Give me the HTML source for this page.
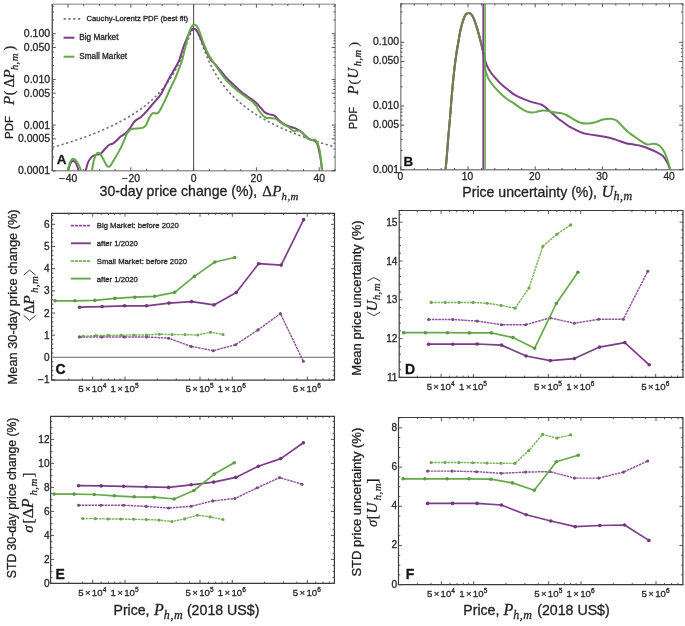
<!DOCTYPE html>
<html><head><meta charset="utf-8"><style>
html,body{margin:0;padding:0;background:#fff;width:685px;height:626px;overflow:hidden}
svg{display:block;filter:blur(0.4px)}
text{stroke:#262626;stroke-width:0.3px;stroke-linejoin:round}
</style></head><body>
<svg width="685" height="626" viewBox="0 0 685 626">
<rect width="685" height="626" fill="#fff"/>
<g id="A">
<line x1="52.3" y1="4.2" x2="52.3" y2="170.8" stroke="#555" stroke-width="1.4"/>
<line x1="51.6" y1="170.8" x2="335.9" y2="170.8" stroke="#999" stroke-width="1.4"/>
<line x1="51.6" y1="4.2" x2="335.9" y2="4.2" stroke="#aaa" stroke-width="1.4"/>
<line x1="335.2" y1="4.2" x2="335.2" y2="170.8" stroke="#999" stroke-width="1.4"/>
<line x1="52.3" y1="170.8" x2="52.3" y2="169" stroke="#444" stroke-width="0.9"/>
<line x1="52.3" y1="4.2" x2="52.3" y2="6" stroke="#444" stroke-width="0.9"/>
<line x1="68" y1="170.8" x2="68" y2="167.3" stroke="#444" stroke-width="0.9"/>
<line x1="68" y1="4.2" x2="68" y2="7.7" stroke="#444" stroke-width="0.9"/>
<line x1="83.7" y1="170.8" x2="83.7" y2="169" stroke="#444" stroke-width="0.9"/>
<line x1="83.7" y1="4.2" x2="83.7" y2="6" stroke="#444" stroke-width="0.9"/>
<line x1="99.4" y1="170.8" x2="99.4" y2="169" stroke="#444" stroke-width="0.9"/>
<line x1="99.4" y1="4.2" x2="99.4" y2="6" stroke="#444" stroke-width="0.9"/>
<line x1="115.1" y1="170.8" x2="115.1" y2="169" stroke="#444" stroke-width="0.9"/>
<line x1="115.1" y1="4.2" x2="115.1" y2="6" stroke="#444" stroke-width="0.9"/>
<line x1="130.8" y1="170.8" x2="130.8" y2="167.3" stroke="#444" stroke-width="0.9"/>
<line x1="130.8" y1="4.2" x2="130.8" y2="7.7" stroke="#444" stroke-width="0.9"/>
<line x1="146.5" y1="170.8" x2="146.5" y2="169" stroke="#444" stroke-width="0.9"/>
<line x1="146.5" y1="4.2" x2="146.5" y2="6" stroke="#444" stroke-width="0.9"/>
<line x1="162.2" y1="170.8" x2="162.2" y2="169" stroke="#444" stroke-width="0.9"/>
<line x1="162.2" y1="4.2" x2="162.2" y2="6" stroke="#444" stroke-width="0.9"/>
<line x1="177.9" y1="170.8" x2="177.9" y2="169" stroke="#444" stroke-width="0.9"/>
<line x1="177.9" y1="4.2" x2="177.9" y2="6" stroke="#444" stroke-width="0.9"/>
<line x1="193.6" y1="170.8" x2="193.6" y2="167.3" stroke="#444" stroke-width="0.9"/>
<line x1="193.6" y1="4.2" x2="193.6" y2="7.7" stroke="#444" stroke-width="0.9"/>
<line x1="209.3" y1="170.8" x2="209.3" y2="169" stroke="#444" stroke-width="0.9"/>
<line x1="209.3" y1="4.2" x2="209.3" y2="6" stroke="#444" stroke-width="0.9"/>
<line x1="225" y1="170.8" x2="225" y2="169" stroke="#444" stroke-width="0.9"/>
<line x1="225" y1="4.2" x2="225" y2="6" stroke="#444" stroke-width="0.9"/>
<line x1="240.7" y1="170.8" x2="240.7" y2="169" stroke="#444" stroke-width="0.9"/>
<line x1="240.7" y1="4.2" x2="240.7" y2="6" stroke="#444" stroke-width="0.9"/>
<line x1="256.4" y1="170.8" x2="256.4" y2="167.3" stroke="#444" stroke-width="0.9"/>
<line x1="256.4" y1="4.2" x2="256.4" y2="7.7" stroke="#444" stroke-width="0.9"/>
<line x1="272.1" y1="170.8" x2="272.1" y2="169" stroke="#444" stroke-width="0.9"/>
<line x1="272.1" y1="4.2" x2="272.1" y2="6" stroke="#444" stroke-width="0.9"/>
<line x1="287.8" y1="170.8" x2="287.8" y2="169" stroke="#444" stroke-width="0.9"/>
<line x1="287.8" y1="4.2" x2="287.8" y2="6" stroke="#444" stroke-width="0.9"/>
<line x1="303.5" y1="170.8" x2="303.5" y2="169" stroke="#444" stroke-width="0.9"/>
<line x1="303.5" y1="4.2" x2="303.5" y2="6" stroke="#444" stroke-width="0.9"/>
<line x1="319.2" y1="170.8" x2="319.2" y2="167.3" stroke="#444" stroke-width="0.9"/>
<line x1="319.2" y1="4.2" x2="319.2" y2="7.7" stroke="#444" stroke-width="0.9"/>
<line x1="334.9" y1="170.8" x2="334.9" y2="169" stroke="#444" stroke-width="0.9"/>
<line x1="334.9" y1="4.2" x2="334.9" y2="6" stroke="#444" stroke-width="0.9"/>
<text x="68" y="181.5" font-family="'Liberation Sans', sans-serif" font-size="10.4" text-anchor="middle" fill="#2a2a2a" font-weight="normal" font-style="normal" >−<tspan dx="0.9">40</tspan></text>
<text x="130.8" y="181.5" font-family="'Liberation Sans', sans-serif" font-size="10.4" text-anchor="middle" fill="#2a2a2a" font-weight="normal" font-style="normal" >−<tspan dx="0.9">20</tspan></text>
<text x="193.6" y="181.5" font-family="'Liberation Sans', sans-serif" font-size="10.4" text-anchor="middle" fill="#2a2a2a" font-weight="normal" font-style="normal" >0</text>
<text x="256.4" y="181.5" font-family="'Liberation Sans', sans-serif" font-size="10.4" text-anchor="middle" fill="#2a2a2a" font-weight="normal" font-style="normal" >20</text>
<text x="319.2" y="181.5" font-family="'Liberation Sans', sans-serif" font-size="10.4" text-anchor="middle" fill="#2a2a2a" font-weight="normal" font-style="normal" >40</text>
<line x1="52.3" y1="170.8" x2="55.8" y2="170.8" stroke="#444" stroke-width="0.9"/>
<line x1="335.2" y1="170.8" x2="331.7" y2="170.8" stroke="#444" stroke-width="0.9"/>
<line x1="52.3" y1="157.04" x2="54.1" y2="157.04" stroke="#444" stroke-width="0.9"/>
<line x1="335.2" y1="157.04" x2="333.4" y2="157.04" stroke="#444" stroke-width="0.9"/>
<line x1="52.3" y1="149" x2="54.1" y2="149" stroke="#444" stroke-width="0.9"/>
<line x1="335.2" y1="149" x2="333.4" y2="149" stroke="#444" stroke-width="0.9"/>
<line x1="52.3" y1="143.29" x2="54.1" y2="143.29" stroke="#444" stroke-width="0.9"/>
<line x1="335.2" y1="143.29" x2="333.4" y2="143.29" stroke="#444" stroke-width="0.9"/>
<line x1="52.3" y1="138.86" x2="55.8" y2="138.86" stroke="#444" stroke-width="0.9"/>
<line x1="335.2" y1="138.86" x2="331.7" y2="138.86" stroke="#444" stroke-width="0.9"/>
<line x1="52.3" y1="135.24" x2="54.1" y2="135.24" stroke="#444" stroke-width="0.9"/>
<line x1="335.2" y1="135.24" x2="333.4" y2="135.24" stroke="#444" stroke-width="0.9"/>
<line x1="52.3" y1="132.18" x2="54.1" y2="132.18" stroke="#444" stroke-width="0.9"/>
<line x1="335.2" y1="132.18" x2="333.4" y2="132.18" stroke="#444" stroke-width="0.9"/>
<line x1="52.3" y1="129.53" x2="54.1" y2="129.53" stroke="#444" stroke-width="0.9"/>
<line x1="335.2" y1="129.53" x2="333.4" y2="129.53" stroke="#444" stroke-width="0.9"/>
<line x1="52.3" y1="127.19" x2="54.1" y2="127.19" stroke="#444" stroke-width="0.9"/>
<line x1="335.2" y1="127.19" x2="333.4" y2="127.19" stroke="#444" stroke-width="0.9"/>
<line x1="52.3" y1="125.1" x2="55.8" y2="125.1" stroke="#444" stroke-width="0.9"/>
<line x1="335.2" y1="125.1" x2="331.7" y2="125.1" stroke="#444" stroke-width="0.9"/>
<line x1="52.3" y1="111.34" x2="54.1" y2="111.34" stroke="#444" stroke-width="0.9"/>
<line x1="335.2" y1="111.34" x2="333.4" y2="111.34" stroke="#444" stroke-width="0.9"/>
<line x1="52.3" y1="103.3" x2="54.1" y2="103.3" stroke="#444" stroke-width="0.9"/>
<line x1="335.2" y1="103.3" x2="333.4" y2="103.3" stroke="#444" stroke-width="0.9"/>
<line x1="52.3" y1="97.59" x2="54.1" y2="97.59" stroke="#444" stroke-width="0.9"/>
<line x1="335.2" y1="97.59" x2="333.4" y2="97.59" stroke="#444" stroke-width="0.9"/>
<line x1="52.3" y1="93.16" x2="55.8" y2="93.16" stroke="#444" stroke-width="0.9"/>
<line x1="335.2" y1="93.16" x2="331.7" y2="93.16" stroke="#444" stroke-width="0.9"/>
<line x1="52.3" y1="89.54" x2="54.1" y2="89.54" stroke="#444" stroke-width="0.9"/>
<line x1="335.2" y1="89.54" x2="333.4" y2="89.54" stroke="#444" stroke-width="0.9"/>
<line x1="52.3" y1="86.48" x2="54.1" y2="86.48" stroke="#444" stroke-width="0.9"/>
<line x1="335.2" y1="86.48" x2="333.4" y2="86.48" stroke="#444" stroke-width="0.9"/>
<line x1="52.3" y1="83.83" x2="54.1" y2="83.83" stroke="#444" stroke-width="0.9"/>
<line x1="335.2" y1="83.83" x2="333.4" y2="83.83" stroke="#444" stroke-width="0.9"/>
<line x1="52.3" y1="81.49" x2="54.1" y2="81.49" stroke="#444" stroke-width="0.9"/>
<line x1="335.2" y1="81.49" x2="333.4" y2="81.49" stroke="#444" stroke-width="0.9"/>
<line x1="52.3" y1="79.4" x2="55.8" y2="79.4" stroke="#444" stroke-width="0.9"/>
<line x1="335.2" y1="79.4" x2="331.7" y2="79.4" stroke="#444" stroke-width="0.9"/>
<line x1="52.3" y1="65.64" x2="54.1" y2="65.64" stroke="#444" stroke-width="0.9"/>
<line x1="335.2" y1="65.64" x2="333.4" y2="65.64" stroke="#444" stroke-width="0.9"/>
<line x1="52.3" y1="57.6" x2="54.1" y2="57.6" stroke="#444" stroke-width="0.9"/>
<line x1="335.2" y1="57.6" x2="333.4" y2="57.6" stroke="#444" stroke-width="0.9"/>
<line x1="52.3" y1="51.89" x2="54.1" y2="51.89" stroke="#444" stroke-width="0.9"/>
<line x1="335.2" y1="51.89" x2="333.4" y2="51.89" stroke="#444" stroke-width="0.9"/>
<line x1="52.3" y1="47.46" x2="55.8" y2="47.46" stroke="#444" stroke-width="0.9"/>
<line x1="335.2" y1="47.46" x2="331.7" y2="47.46" stroke="#444" stroke-width="0.9"/>
<line x1="52.3" y1="43.84" x2="54.1" y2="43.84" stroke="#444" stroke-width="0.9"/>
<line x1="335.2" y1="43.84" x2="333.4" y2="43.84" stroke="#444" stroke-width="0.9"/>
<line x1="52.3" y1="40.78" x2="54.1" y2="40.78" stroke="#444" stroke-width="0.9"/>
<line x1="335.2" y1="40.78" x2="333.4" y2="40.78" stroke="#444" stroke-width="0.9"/>
<line x1="52.3" y1="38.13" x2="54.1" y2="38.13" stroke="#444" stroke-width="0.9"/>
<line x1="335.2" y1="38.13" x2="333.4" y2="38.13" stroke="#444" stroke-width="0.9"/>
<line x1="52.3" y1="35.79" x2="54.1" y2="35.79" stroke="#444" stroke-width="0.9"/>
<line x1="335.2" y1="35.79" x2="333.4" y2="35.79" stroke="#444" stroke-width="0.9"/>
<line x1="52.3" y1="33.7" x2="55.8" y2="33.7" stroke="#444" stroke-width="0.9"/>
<line x1="335.2" y1="33.7" x2="331.7" y2="33.7" stroke="#444" stroke-width="0.9"/>
<line x1="52.3" y1="19.94" x2="54.1" y2="19.94" stroke="#444" stroke-width="0.9"/>
<line x1="335.2" y1="19.94" x2="333.4" y2="19.94" stroke="#444" stroke-width="0.9"/>
<line x1="52.3" y1="11.9" x2="54.1" y2="11.9" stroke="#444" stroke-width="0.9"/>
<line x1="335.2" y1="11.9" x2="333.4" y2="11.9" stroke="#444" stroke-width="0.9"/>
<line x1="52.3" y1="6.19" x2="54.1" y2="6.19" stroke="#444" stroke-width="0.9"/>
<line x1="335.2" y1="6.19" x2="333.4" y2="6.19" stroke="#444" stroke-width="0.9"/>
<text x="50.1" y="37.3" font-family="'Liberation Sans', sans-serif" font-size="10.5" text-anchor="end" fill="#2a2a2a" font-weight="normal" font-style="normal" >0.100</text>
<text x="50.1" y="51.06" font-family="'Liberation Sans', sans-serif" font-size="10.5" text-anchor="end" fill="#2a2a2a" font-weight="normal" font-style="normal" >0.050</text>
<text x="50.1" y="83" font-family="'Liberation Sans', sans-serif" font-size="10.5" text-anchor="end" fill="#2a2a2a" font-weight="normal" font-style="normal" >0.010</text>
<text x="50.1" y="96.76" font-family="'Liberation Sans', sans-serif" font-size="10.5" text-anchor="end" fill="#2a2a2a" font-weight="normal" font-style="normal" >0.005</text>
<text x="50.1" y="128.7" font-family="'Liberation Sans', sans-serif" font-size="10.5" text-anchor="end" fill="#2a2a2a" font-weight="normal" font-style="normal" >0.001</text>
<text x="50.1" y="142.46" font-family="'Liberation Sans', sans-serif" font-size="10.5" text-anchor="end" fill="#2a2a2a" font-weight="normal" font-style="normal" >0.0005</text>
<text x="50.1" y="174.4" font-family="'Liberation Sans', sans-serif" font-size="10.5" text-anchor="end" fill="#2a2a2a" font-weight="normal" font-style="normal" >0.0001</text>
<line x1="193.6" y1="4.2" x2="193.6" y2="170.8" stroke="#555" stroke-width="1.1"/>
<path d="M52.3,147.37 L53.3,147.09 L54.3,146.8 L55.3,146.52 L56.3,146.23 L57.3,145.95 L58.3,145.66 L59.3,145.37 L60.3,145.07 L61.3,144.77 L62.3,144.48 L63.3,144.18 L64.3,143.87 L65.3,143.57 L66.3,143.26 L67.3,142.95 L68.3,142.64 L69.3,142.32 L70.3,142 L71.3,141.68 L72.3,141.36 L73.3,141.04 L74.3,140.71 L75.3,140.38 L76.3,140.04 L77.3,139.71 L78.3,139.37 L79.3,139.03 L80.3,138.68 L81.3,138.33 L82.3,137.98 L83.3,137.63 L84.3,137.27 L85.3,136.91 L86.3,136.54 L87.3,136.18 L88.3,135.81 L89.3,135.43 L90.3,135.05 L91.3,134.67 L92.3,134.29 L93.3,133.9 L94.3,133.51 L95.3,133.11 L96.3,132.71 L97.3,132.3 L98.3,131.9 L99.3,131.48 L100.3,131.06 L101.3,130.64 L102.3,130.22 L103.3,129.79 L104.3,129.35 L105.3,128.91 L106.3,128.46 L107.3,128.01 L108.3,127.56 L109.3,127.1 L110.3,126.63 L111.3,126.16 L112.3,125.68 L113.3,125.2 L114.3,124.71 L115.3,124.22 L116.3,123.72 L117.3,123.21 L118.3,122.69 L119.3,122.17 L120.3,121.65 L121.3,121.11 L122.3,120.57 L123.3,120.02 L124.3,119.47 L125.3,118.9 L126.3,118.33 L127.3,117.75 L128.3,117.16 L129.3,116.56 L130.3,115.95 L131.3,115.34 L132.3,114.71 L133.3,114.07 L134.3,113.43 L135.3,112.77 L136.3,112.1 L137.3,111.42 L138.3,110.73 L139.3,110.03 L140.3,109.32 L141.3,108.59 L142.3,107.85 L143.3,107.09 L144.3,106.32 L145.3,105.54 L146.3,104.74 L147.3,103.92 L148.3,103.09 L149.3,102.24 L150.3,101.37 L151.3,100.48 L152.3,99.58 L153.3,98.65 L154.3,97.7 L155.3,96.73 L156.3,95.74 L157.3,94.72 L158.3,93.67 L159.3,92.6 L160.3,91.5 L161.3,90.37 L162.3,89.21 L163.3,88.01 L164.3,86.78 L165.3,85.51 L166.3,84.21 L167.3,82.86 L168.3,81.47 L169.3,80.03 L170.3,78.54 L171.3,77 L172.3,75.4 L173.3,73.75 L174.3,72.03 L175.3,70.24 L176.3,68.38 L177.3,66.45 L178.3,64.43 L179.3,62.33 L180.3,60.14 L181.3,57.86 L182.3,55.48 L183.3,53.01 L184.3,50.44 L185.3,47.79 L186.3,45.08 L187.3,42.33 L188.3,39.58 L189.3,36.92 L190.3,34.43 L191.3,32.25 L192.3,30.51 L193.3,29.37 L194.3,28.94 L195.3,29.27 L196.3,30.32 L197.3,31.98 L198.3,34.12 L199.3,36.58 L200.3,39.22 L201.3,41.96 L202.3,44.71 L203.3,47.43 L204.3,50.09 L205.3,52.67 L206.3,55.15 L207.3,57.54 L208.3,59.84 L209.3,62.04 L210.3,64.16 L211.3,66.18 L212.3,68.13 L213.3,70 L214.3,71.79 L215.3,73.52 L216.3,75.18 L217.3,76.79 L218.3,78.34 L219.3,79.83 L220.3,81.28 L221.3,82.68 L222.3,84.03 L223.3,85.34 L224.3,86.61 L225.3,87.85 L226.3,89.05 L227.3,90.22 L228.3,91.35 L229.3,92.45 L230.3,93.53 L231.3,94.58 L232.3,95.6 L233.3,96.6 L234.3,97.57 L235.3,98.53 L236.3,99.46 L237.3,100.36 L238.3,101.25 L239.3,102.12 L240.3,102.98 L241.3,103.81 L242.3,104.63 L243.3,105.43 L244.3,106.22 L245.3,106.99 L246.3,107.75 L247.3,108.49 L248.3,109.22 L249.3,109.94 L250.3,110.64 L251.3,111.33 L252.3,112.01 L253.3,112.68 L254.3,113.34 L255.3,113.99 L256.3,114.62 L257.3,115.25 L258.3,115.87 L259.3,116.48 L260.3,117.08 L261.3,117.67 L262.3,118.25 L263.3,118.82 L264.3,119.39 L265.3,119.95 L266.3,120.5 L267.3,121.04 L268.3,121.58 L269.3,122.1 L270.3,122.63 L271.3,123.14 L272.3,123.65 L273.3,124.15 L274.3,124.65 L275.3,125.14 L276.3,125.62 L277.3,126.1 L278.3,126.57 L279.3,127.04 L280.3,127.5 L281.3,127.95 L282.3,128.4 L283.3,128.85 L284.3,129.29 L285.3,129.73 L286.3,130.16 L287.3,130.59 L288.3,131.01 L289.3,131.43 L290.3,131.84 L291.3,132.25 L292.3,132.65 L293.3,133.06 L294.3,133.45 L295.3,133.85 L296.3,134.24 L297.3,134.62 L298.3,135 L299.3,135.38 L300.3,135.76 L301.3,136.13 L302.3,136.5 L303.3,136.86 L304.3,137.22 L305.3,137.58 L306.3,137.93 L307.3,138.29 L308.3,138.63 L309.3,138.98 L310.3,139.32 L311.3,139.66 L312.3,140 L313.3,140.33 L314.3,140.66 L315.3,140.99 L316.3,141.32 L317.3,141.64 L318.3,141.96 L319.3,142.28 L320.3,142.59 L321.3,142.91 L322.3,143.22 L323.3,143.53 L324.3,143.83 L325.3,144.13 L326.3,144.44 L327.3,144.73 L328.3,145.03 L329.3,145.33 L330.3,145.62 L331.3,145.91 L332.3,146.2 L333.3,146.48 L334.3,146.77" fill="none" stroke="#707070" stroke-width="1.6" stroke-dasharray="2.2,2.6"/>
<clipPath id="clipA"><rect x="52.3" y="4.2" width="282.9" height="166.6"/></clipPath>
<g clip-path="url(#clipA)" fill="none" stroke-width="2" stroke-linejoin="round">
<path d="M68,172 C68.25,171 68.97,167.63 69.5,166 C70.03,164.37 70.57,163.05 71.2,162.2 C71.83,161.35 72.58,160.85 73.3,160.9 C74.02,160.95 74.83,161.57 75.5,162.5 C76.17,163.43 76.75,164.92 77.3,166.5 C77.85,168.08 78.55,171.08 78.8,172" stroke="#7c3d88"/>
<path d="M85.3,172 C85.67,170.67 86.88,165.92 87.5,164 C88.12,162.08 88.17,161.78 89,160.5 C89.83,159.22 91.33,157.23 92.5,156.3 C93.67,155.37 94.92,155.23 96,154.9 C97.08,154.57 98.07,154.65 99,154.3 C99.93,153.95 100.68,153.6 101.6,152.8 C102.52,152 103.52,150.6 104.5,149.5 C105.48,148.4 106.5,147.08 107.5,146.2 C108.5,145.32 109.53,144.68 110.5,144.2 C111.47,143.72 112.1,144.07 113.3,143.3 C114.5,142.53 116.58,140.65 117.7,139.6 C118.82,138.55 118.73,138.02 120,137 C121.27,135.98 123.7,134.88 125.3,133.5 C126.9,132.12 128.15,130.6 129.6,128.7 C131.05,126.8 132.68,123.7 134,122.1 C135.32,120.5 136.33,119.97 137.5,119.1 C138.67,118.23 139.53,118.15 141,116.9 C142.47,115.65 144.55,113.5 146.3,111.6 C148.05,109.7 149.75,107.53 151.5,105.5 C153.25,103.47 155.22,101.32 156.8,99.4 C158.38,97.48 159.4,96.63 161,94 C162.6,91.37 164.82,86.6 166.4,83.6 C167.98,80.6 169.03,78.63 170.5,76 C171.97,73.37 173.73,70.47 175.2,67.8 C176.67,65.13 177.9,63.52 179.3,60 C180.7,56.48 182.15,50.72 183.6,46.7 C185.05,42.68 186.68,38.73 188,35.9 C189.32,33.07 190.57,30.9 191.5,29.7 C192.43,28.5 192.87,28.7 193.6,28.7 C194.33,28.7 195.05,28.75 195.9,29.7 C196.75,30.65 197.63,32.3 198.7,34.4 C199.77,36.5 200.97,39.3 202.3,42.3 C203.63,45.3 205.25,49.45 206.7,52.4 C208.15,55.35 209.38,57.78 211,60 C212.62,62.22 214.03,62.98 216.4,65.7 C218.77,68.42 222.27,73.07 225.2,76.3 C228.13,79.53 231.08,82.32 234,85.1 C236.92,87.88 239.78,90.67 242.7,93 C245.62,95.33 249.15,97.35 251.5,99.1 C253.85,100.85 255.3,102.1 256.8,103.5 C258.3,104.9 259.17,106.02 260.5,107.5 C261.83,108.98 263.28,111.25 264.8,112.4 C266.32,113.55 268,113.87 269.6,114.4 C271.2,114.93 273,114.8 274.4,115.6 C275.8,116.4 276.6,117.9 278,119.2 C279.4,120.5 281.02,122.22 282.8,123.4 C284.58,124.58 286.72,125.52 288.7,126.3 C290.68,127.08 292.9,127.4 294.7,128.1 C296.5,128.8 297.9,129.4 299.5,130.5 C301.1,131.6 302.7,133.3 304.3,134.7 C305.9,136.1 307.7,138 309.1,138.9 C310.5,139.8 311.6,139.67 312.7,140.1 C313.8,140.53 314.88,140.68 315.7,141.5 C316.52,142.32 317.07,143.53 317.6,145 C318.13,146.47 318.42,148.13 318.9,150.3 C319.38,152.47 320.08,155.72 320.5,158 C320.92,160.28 321.1,161.67 321.4,164 C321.7,166.33 322.15,170.67 322.3,172" stroke="#7c3d88"/>
<path d="M67.3,172 C67.55,171 68.23,167.83 68.8,166 C69.37,164.17 70.03,162.2 70.7,161 C71.37,159.8 72,158.97 72.8,158.8 C73.6,158.63 74.55,159.05 75.5,160 C76.45,160.95 77.62,162.83 78.5,164.5 C79.38,166.17 80.3,168.75 80.8,170 C81.3,171.25 81.38,171.67 81.5,172" stroke="#66a84a"/>
<path d="M91.8,172 C92.08,170.33 92.88,164.75 93.5,162 C94.12,159.25 94.75,157.03 95.5,155.5 C96.25,153.97 97.17,152.97 98,152.8 C98.83,152.63 99.58,153.38 100.5,154.5 C101.42,155.62 102.58,157.83 103.5,159.5 C104.42,161.17 105.22,163.28 106,164.5 C106.78,165.72 107.45,166.63 108.2,166.8 C108.95,166.97 109.4,166.87 110.5,165.5 C111.6,164.13 113.12,161.45 114.8,158.6 C116.48,155.75 119.15,151.17 120.6,148.4 C122.05,145.63 122.43,144.48 123.5,142 C124.57,139.52 125.83,135.57 127,133.5 C128.17,131.43 129.33,130.4 130.5,129.6 C131.67,128.8 132.53,128.92 134,128.7 C135.47,128.48 137.7,128.52 139.3,128.3 C140.9,128.08 142.43,127.98 143.6,127.4 C144.77,126.82 145.42,126.27 146.3,124.8 C147.18,123.33 147.88,120.5 148.9,118.6 C149.92,116.7 151.23,114.27 152.4,113.4 C153.57,112.53 154.88,113.55 155.9,113.4 C156.92,113.25 157.48,113.67 158.5,112.5 C159.52,111.33 160.83,108.58 162,106.4 C163.17,104.22 164.17,102.3 165.5,99.4 C166.83,96.5 168.38,92.52 170,89 C171.62,85.48 173.78,81.47 175.2,78.3 C176.62,75.13 177.33,73.05 178.5,70 C179.67,66.95 180.98,64.13 182.2,60 C183.42,55.87 184.6,49.95 185.8,45.2 C187,40.45 188.32,34.73 189.4,31.5 C190.48,28.27 191.48,26.98 192.3,25.8 C193.12,24.62 193.58,24.4 194.3,24.4 C195.02,24.4 195.73,24.62 196.6,25.8 C197.47,26.98 198.3,28.5 199.5,31.5 C200.7,34.5 202.37,40.08 203.8,43.8 C205.23,47.52 206.9,51.35 208.1,53.8 C209.3,56.25 209.62,56.37 211,58.5 C212.38,60.63 214.03,63.2 216.4,66.6 C218.77,70 222.27,75.38 225.2,78.9 C228.13,82.42 231.08,85.07 234,87.7 C236.92,90.33 239.78,92.5 242.7,94.7 C245.62,96.9 249.3,99.1 251.5,100.9 C253.7,102.7 254.48,103.65 255.9,105.5 C257.32,107.35 258.52,110.05 260,112 C261.48,113.95 263.2,116.2 264.8,117.2 C266.4,118.2 267.8,117.77 269.6,118 C271.4,118.23 274,118 275.6,118.6 C277.2,119.2 277.8,120.6 279.2,121.6 C280.6,122.6 282.42,123.67 284,124.6 C285.58,125.53 287.12,126.12 288.7,127.2 C290.28,128.28 291.9,130.55 293.5,131.1 C295.1,131.65 296.9,130.3 298.3,130.5 C299.7,130.7 300.5,131.1 301.9,132.3 C303.3,133.5 305.1,136.4 306.7,137.7 C308.3,139 310.2,139.8 311.5,140.1 C312.8,140.4 313.6,139.2 314.5,139.5 C315.4,139.8 316.22,140.82 316.9,141.9 C317.58,142.98 318.12,144.48 318.6,146 C319.08,147.52 319.38,148.48 319.8,151 C320.22,153.52 320.73,157.6 321.1,161.1 C321.47,164.6 321.85,170.18 322,172" stroke="#66a84a"/>
</g>
<path d="M63.6,18.9 L82.6,18.9" stroke="#707070" stroke-width="1.6" stroke-dasharray="2.2,2.6"/>
<line x1="63.6" y1="37.7" x2="74.4" y2="37.7" stroke="#7c3d88" stroke-width="2"/>
<line x1="63.6" y1="56.7" x2="74.4" y2="56.7" stroke="#66a84a" stroke-width="2"/>
<text x="86.5" y="21.3" font-family="'Liberation Sans', sans-serif" font-size="7.7" text-anchor="start" fill="#1e1e1e" font-weight="normal" font-style="normal" >Cauchy-Lorentz PDF (best fit)</text>
<text x="79.3" y="39.5" font-family="'Liberation Sans', sans-serif" font-size="8.2" text-anchor="start" fill="#1e1e1e" font-weight="normal" font-style="normal" >Big Market</text>
<text x="79.3" y="58.6" font-family="'Liberation Sans', sans-serif" font-size="8.2" text-anchor="start" fill="#1e1e1e" font-weight="normal" font-style="normal" >Small Market</text>
<text x="56.8" y="164.4" font-family="'Liberation Sans', sans-serif" font-size="13.4" text-anchor="start" fill="#111" font-weight="bold" font-style="normal" >A</text>
<text x="99.6" y="196.4" font-family="'Liberation Sans', sans-serif" font-size="14.1" text-anchor="start" fill="#1e1e1e" font-weight="normal" font-style="normal" >30-day price change (%), </text>
<text x="262.3" y="196.4" font-family="'Liberation Serif', serif" font-size="15" fill="#1e1e1e">Δ<tspan font-style="italic" dx="0.4">P</tspan><tspan font-style="italic" font-size="10.8" dy="3.6" letter-spacing="0.5">h,m</tspan></text>
<g transform="translate(12.6,0) rotate(-90)">
<text x="-138.9" y="0" font-family="'Liberation Sans', sans-serif" font-size="11.4" fill="#1e1e1e">PDF</text>
</g>
<g transform="translate(14,0) rotate(-90)" fill="#1e1e1e"><text x="-104.9" y="0" font-family="'Liberation Serif', serif" font-style="italic" font-size="15">P</text><text x="-95.3" y="0" font-family="'Liberation Serif', serif" font-style="normal" font-size="14">(</text><text x="-87.4" y="0" font-family="'Liberation Serif', serif" font-style="normal" font-size="14">Δ</text><text x="-78.4" y="0" font-family="'Liberation Serif', serif" font-style="italic" font-size="15">P</text><text x="-70.3" y="3.6" font-family="'Liberation Serif', serif" font-style="italic" font-size="11" letter-spacing="0.4">h,m</text><text x="-50.5" y="0" font-family="'Liberation Serif', serif" font-style="normal" font-size="14">)</text></g>
</g>
<g id="B">
<line x1="400.8" y1="3.8" x2="400.8" y2="169.8" stroke="#888" stroke-width="1.4"/>
<line x1="400.1" y1="169.8" x2="683.4" y2="169.8" stroke="#888" stroke-width="1.4"/>
<line x1="400.1" y1="3.8" x2="683.4" y2="3.8" stroke="#999" stroke-width="1.4"/>
<line x1="682.7" y1="3.8" x2="682.7" y2="169.8" stroke="#999" stroke-width="1.4"/>
<line x1="400.8" y1="169.8" x2="400.8" y2="166.3" stroke="#444" stroke-width="0.9"/>
<line x1="400.8" y1="3.8" x2="400.8" y2="7.3" stroke="#444" stroke-width="0.9"/>
<line x1="414.24" y1="169.8" x2="414.24" y2="168" stroke="#444" stroke-width="0.9"/>
<line x1="414.24" y1="3.8" x2="414.24" y2="5.6" stroke="#444" stroke-width="0.9"/>
<line x1="427.68" y1="169.8" x2="427.68" y2="168" stroke="#444" stroke-width="0.9"/>
<line x1="427.68" y1="3.8" x2="427.68" y2="5.6" stroke="#444" stroke-width="0.9"/>
<line x1="441.12" y1="169.8" x2="441.12" y2="168" stroke="#444" stroke-width="0.9"/>
<line x1="441.12" y1="3.8" x2="441.12" y2="5.6" stroke="#444" stroke-width="0.9"/>
<line x1="454.56" y1="169.8" x2="454.56" y2="168" stroke="#444" stroke-width="0.9"/>
<line x1="454.56" y1="3.8" x2="454.56" y2="5.6" stroke="#444" stroke-width="0.9"/>
<line x1="468" y1="169.8" x2="468" y2="166.3" stroke="#444" stroke-width="0.9"/>
<line x1="468" y1="3.8" x2="468" y2="7.3" stroke="#444" stroke-width="0.9"/>
<line x1="481.44" y1="169.8" x2="481.44" y2="168" stroke="#444" stroke-width="0.9"/>
<line x1="481.44" y1="3.8" x2="481.44" y2="5.6" stroke="#444" stroke-width="0.9"/>
<line x1="494.88" y1="169.8" x2="494.88" y2="168" stroke="#444" stroke-width="0.9"/>
<line x1="494.88" y1="3.8" x2="494.88" y2="5.6" stroke="#444" stroke-width="0.9"/>
<line x1="508.32" y1="169.8" x2="508.32" y2="168" stroke="#444" stroke-width="0.9"/>
<line x1="508.32" y1="3.8" x2="508.32" y2="5.6" stroke="#444" stroke-width="0.9"/>
<line x1="521.76" y1="169.8" x2="521.76" y2="168" stroke="#444" stroke-width="0.9"/>
<line x1="521.76" y1="3.8" x2="521.76" y2="5.6" stroke="#444" stroke-width="0.9"/>
<line x1="535.2" y1="169.8" x2="535.2" y2="166.3" stroke="#444" stroke-width="0.9"/>
<line x1="535.2" y1="3.8" x2="535.2" y2="7.3" stroke="#444" stroke-width="0.9"/>
<line x1="548.64" y1="169.8" x2="548.64" y2="168" stroke="#444" stroke-width="0.9"/>
<line x1="548.64" y1="3.8" x2="548.64" y2="5.6" stroke="#444" stroke-width="0.9"/>
<line x1="562.08" y1="169.8" x2="562.08" y2="168" stroke="#444" stroke-width="0.9"/>
<line x1="562.08" y1="3.8" x2="562.08" y2="5.6" stroke="#444" stroke-width="0.9"/>
<line x1="575.52" y1="169.8" x2="575.52" y2="168" stroke="#444" stroke-width="0.9"/>
<line x1="575.52" y1="3.8" x2="575.52" y2="5.6" stroke="#444" stroke-width="0.9"/>
<line x1="588.96" y1="169.8" x2="588.96" y2="168" stroke="#444" stroke-width="0.9"/>
<line x1="588.96" y1="3.8" x2="588.96" y2="5.6" stroke="#444" stroke-width="0.9"/>
<line x1="602.4" y1="169.8" x2="602.4" y2="166.3" stroke="#444" stroke-width="0.9"/>
<line x1="602.4" y1="3.8" x2="602.4" y2="7.3" stroke="#444" stroke-width="0.9"/>
<line x1="615.84" y1="169.8" x2="615.84" y2="168" stroke="#444" stroke-width="0.9"/>
<line x1="615.84" y1="3.8" x2="615.84" y2="5.6" stroke="#444" stroke-width="0.9"/>
<line x1="629.28" y1="169.8" x2="629.28" y2="168" stroke="#444" stroke-width="0.9"/>
<line x1="629.28" y1="3.8" x2="629.28" y2="5.6" stroke="#444" stroke-width="0.9"/>
<line x1="642.72" y1="169.8" x2="642.72" y2="168" stroke="#444" stroke-width="0.9"/>
<line x1="642.72" y1="3.8" x2="642.72" y2="5.6" stroke="#444" stroke-width="0.9"/>
<line x1="656.16" y1="169.8" x2="656.16" y2="168" stroke="#444" stroke-width="0.9"/>
<line x1="656.16" y1="3.8" x2="656.16" y2="5.6" stroke="#444" stroke-width="0.9"/>
<line x1="669.6" y1="169.8" x2="669.6" y2="166.3" stroke="#444" stroke-width="0.9"/>
<line x1="669.6" y1="3.8" x2="669.6" y2="7.3" stroke="#444" stroke-width="0.9"/>
<line x1="683.04" y1="169.8" x2="683.04" y2="168" stroke="#444" stroke-width="0.9"/>
<line x1="683.04" y1="3.8" x2="683.04" y2="5.6" stroke="#444" stroke-width="0.9"/>
<text x="400.3" y="180.1" font-family="'Liberation Sans', sans-serif" font-size="10.2" text-anchor="middle" fill="#2a2a2a" font-weight="normal" font-style="normal" >0</text>
<text x="467.5" y="180.1" font-family="'Liberation Sans', sans-serif" font-size="10.2" text-anchor="middle" fill="#2a2a2a" font-weight="normal" font-style="normal" >10</text>
<text x="534.7" y="180.1" font-family="'Liberation Sans', sans-serif" font-size="10.2" text-anchor="middle" fill="#2a2a2a" font-weight="normal" font-style="normal" >20</text>
<text x="601.9" y="180.1" font-family="'Liberation Sans', sans-serif" font-size="10.2" text-anchor="middle" fill="#2a2a2a" font-weight="normal" font-style="normal" >30</text>
<text x="669.1" y="180.1" font-family="'Liberation Sans', sans-serif" font-size="10.2" text-anchor="middle" fill="#2a2a2a" font-weight="normal" font-style="normal" >40</text>
<line x1="400.8" y1="169.7" x2="404.3" y2="169.7" stroke="#444" stroke-width="0.9"/>
<line x1="682.7" y1="169.7" x2="679.2" y2="169.7" stroke="#444" stroke-width="0.9"/>
<line x1="400.8" y1="150.52" x2="402.6" y2="150.52" stroke="#444" stroke-width="0.9"/>
<line x1="682.7" y1="150.52" x2="680.9" y2="150.52" stroke="#444" stroke-width="0.9"/>
<line x1="400.8" y1="139.31" x2="402.6" y2="139.31" stroke="#444" stroke-width="0.9"/>
<line x1="682.7" y1="139.31" x2="680.9" y2="139.31" stroke="#444" stroke-width="0.9"/>
<line x1="400.8" y1="131.35" x2="402.6" y2="131.35" stroke="#444" stroke-width="0.9"/>
<line x1="682.7" y1="131.35" x2="680.9" y2="131.35" stroke="#444" stroke-width="0.9"/>
<line x1="400.8" y1="125.18" x2="404.3" y2="125.18" stroke="#444" stroke-width="0.9"/>
<line x1="682.7" y1="125.18" x2="679.2" y2="125.18" stroke="#444" stroke-width="0.9"/>
<line x1="400.8" y1="120.13" x2="402.6" y2="120.13" stroke="#444" stroke-width="0.9"/>
<line x1="682.7" y1="120.13" x2="680.9" y2="120.13" stroke="#444" stroke-width="0.9"/>
<line x1="400.8" y1="115.87" x2="402.6" y2="115.87" stroke="#444" stroke-width="0.9"/>
<line x1="682.7" y1="115.87" x2="680.9" y2="115.87" stroke="#444" stroke-width="0.9"/>
<line x1="400.8" y1="112.17" x2="402.6" y2="112.17" stroke="#444" stroke-width="0.9"/>
<line x1="682.7" y1="112.17" x2="680.9" y2="112.17" stroke="#444" stroke-width="0.9"/>
<line x1="400.8" y1="108.91" x2="402.6" y2="108.91" stroke="#444" stroke-width="0.9"/>
<line x1="682.7" y1="108.91" x2="680.9" y2="108.91" stroke="#444" stroke-width="0.9"/>
<line x1="400.8" y1="106" x2="404.3" y2="106" stroke="#444" stroke-width="0.9"/>
<line x1="682.7" y1="106" x2="679.2" y2="106" stroke="#444" stroke-width="0.9"/>
<line x1="400.8" y1="86.82" x2="402.6" y2="86.82" stroke="#444" stroke-width="0.9"/>
<line x1="682.7" y1="86.82" x2="680.9" y2="86.82" stroke="#444" stroke-width="0.9"/>
<line x1="400.8" y1="75.61" x2="402.6" y2="75.61" stroke="#444" stroke-width="0.9"/>
<line x1="682.7" y1="75.61" x2="680.9" y2="75.61" stroke="#444" stroke-width="0.9"/>
<line x1="400.8" y1="67.65" x2="402.6" y2="67.65" stroke="#444" stroke-width="0.9"/>
<line x1="682.7" y1="67.65" x2="680.9" y2="67.65" stroke="#444" stroke-width="0.9"/>
<line x1="400.8" y1="61.48" x2="404.3" y2="61.48" stroke="#444" stroke-width="0.9"/>
<line x1="682.7" y1="61.48" x2="679.2" y2="61.48" stroke="#444" stroke-width="0.9"/>
<line x1="400.8" y1="56.43" x2="402.6" y2="56.43" stroke="#444" stroke-width="0.9"/>
<line x1="682.7" y1="56.43" x2="680.9" y2="56.43" stroke="#444" stroke-width="0.9"/>
<line x1="400.8" y1="52.17" x2="402.6" y2="52.17" stroke="#444" stroke-width="0.9"/>
<line x1="682.7" y1="52.17" x2="680.9" y2="52.17" stroke="#444" stroke-width="0.9"/>
<line x1="400.8" y1="48.47" x2="402.6" y2="48.47" stroke="#444" stroke-width="0.9"/>
<line x1="682.7" y1="48.47" x2="680.9" y2="48.47" stroke="#444" stroke-width="0.9"/>
<line x1="400.8" y1="45.21" x2="402.6" y2="45.21" stroke="#444" stroke-width="0.9"/>
<line x1="682.7" y1="45.21" x2="680.9" y2="45.21" stroke="#444" stroke-width="0.9"/>
<line x1="400.8" y1="42.3" x2="404.3" y2="42.3" stroke="#444" stroke-width="0.9"/>
<line x1="682.7" y1="42.3" x2="679.2" y2="42.3" stroke="#444" stroke-width="0.9"/>
<line x1="400.8" y1="23.12" x2="402.6" y2="23.12" stroke="#444" stroke-width="0.9"/>
<line x1="682.7" y1="23.12" x2="680.9" y2="23.12" stroke="#444" stroke-width="0.9"/>
<line x1="400.8" y1="11.91" x2="402.6" y2="11.91" stroke="#444" stroke-width="0.9"/>
<line x1="682.7" y1="11.91" x2="680.9" y2="11.91" stroke="#444" stroke-width="0.9"/>
<line x1="400.8" y1="3.95" x2="402.6" y2="3.95" stroke="#444" stroke-width="0.9"/>
<line x1="682.7" y1="3.95" x2="680.9" y2="3.95" stroke="#444" stroke-width="0.9"/>
<text x="399.1" y="45.3" font-family="'Liberation Sans', sans-serif" font-size="10.4" text-anchor="end" fill="#2a2a2a" font-weight="normal" font-style="normal" >0.100</text>
<text x="399.1" y="64.48" font-family="'Liberation Sans', sans-serif" font-size="10.4" text-anchor="end" fill="#2a2a2a" font-weight="normal" font-style="normal" >0.050</text>
<text x="399.1" y="109" font-family="'Liberation Sans', sans-serif" font-size="10.4" text-anchor="end" fill="#2a2a2a" font-weight="normal" font-style="normal" >0.010</text>
<text x="399.1" y="128.18" font-family="'Liberation Sans', sans-serif" font-size="10.4" text-anchor="end" fill="#2a2a2a" font-weight="normal" font-style="normal" >0.005</text>
<text x="399.1" y="172.7" font-family="'Liberation Sans', sans-serif" font-size="10.4" text-anchor="end" fill="#2a2a2a" font-weight="normal" font-style="normal" >0.001</text>
<clipPath id="clipB"><rect x="400.8" y="3.8" width="281.9" height="166"/></clipPath>
<g clip-path="url(#clipB)" fill="none" stroke-width="2" stroke-linejoin="round">
<path d="M445.4,172 C445.43,171.6 445.33,172.6 445.6,169.6 C445.87,166.6 446.53,159.6 447,154 C447.47,148.4 447.9,142 448.4,136 C448.9,130 449.5,124 450,118 C450.5,112 450.92,105.82 451.4,100 C451.88,94.18 452.4,88.3 452.9,83.1 C453.4,77.9 453.83,73.58 454.4,68.8 C454.97,64.02 455.58,59.2 456.3,54.4 C457.02,49.6 457.98,44.15 458.7,40 C459.42,35.85 459.77,33.07 460.6,29.5 C461.43,25.93 462.8,21.15 463.7,18.6 C464.6,16.05 465.17,15.15 466,14.2 C466.83,13.25 467.82,12.87 468.7,12.9 C469.58,12.93 470.45,13.45 471.3,14.4 C472.15,15.35 472.78,16.1 473.8,18.6 C474.82,21.1 476.22,25.43 477.4,29.4 C478.58,33.37 479.92,38.55 480.9,42.4 C481.88,46.25 482.33,48.72 483.3,52.5 C484.27,56.28 485.38,61.68 486.7,65.1 C488.02,68.52 489.52,70.57 491.2,73 C492.88,75.43 494.93,77.65 496.8,79.7 C498.67,81.75 500.53,83.63 502.4,85.3 C504.27,86.97 506.13,88.22 508,89.7 C509.87,91.18 511.73,92.95 513.6,94.2 C515.47,95.45 517.05,96.22 519.2,97.2 C521.35,98.18 524.07,99.2 526.5,100.1 C528.93,101 531.37,101.87 533.8,102.6 C536.23,103.33 539.15,103.7 541.1,104.5 C543.05,105.3 543.8,106.05 545.5,107.4 C547.2,108.75 549.35,110.88 551.3,112.6 C553.25,114.32 555.25,116.13 557.2,117.7 C559.15,119.27 560.82,120.42 563,122 C565.18,123.58 567.87,125.73 570.3,127.2 C572.73,128.67 575.17,129.73 577.6,130.8 C580.03,131.87 581.95,132.85 584.9,133.6 C587.85,134.35 592.28,134.82 595.3,135.3 C598.32,135.78 600.43,136.05 603,136.5 C605.57,136.95 608.15,137.32 610.7,138 C613.25,138.68 615.75,139.73 618.3,140.6 C620.85,141.47 623.45,142.55 626,143.2 C628.55,143.85 631.05,144.03 633.6,144.5 C636.15,144.97 638.73,145.3 641.3,146 C643.87,146.7 646.45,147.68 649,148.7 C651.55,149.72 654.3,150.9 656.6,152.1 C658.9,153.3 661,154.12 662.8,155.9 C664.6,157.68 666.18,160.5 667.4,162.8 C668.62,165.1 669.58,168.17 670.1,169.7 C670.62,171.23 670.43,171.62 670.5,172" stroke="#7c3d88"/>
<path d="M445.4,172 C445.43,171.6 445.33,172.6 445.6,169.6 C445.87,166.6 446.53,159.6 447,154 C447.47,148.4 447.9,142 448.4,136 C448.9,130 449.5,124 450,118 C450.5,112 450.92,105.82 451.4,100 C451.88,94.18 452.4,88.3 452.9,83.1 C453.4,77.9 453.83,73.58 454.4,68.8 C454.97,64.02 455.58,59.2 456.3,54.4 C457.02,49.6 457.98,44.15 458.7,40 C459.42,35.85 459.77,33.07 460.6,29.5 C461.43,25.93 462.8,21.15 463.7,18.6 C464.6,16.05 465.17,15.15 466,14.2 C466.83,13.25 467.82,12.87 468.7,12.9 C469.58,12.93 470.45,13.45 471.3,14.4 C472.15,15.35 472.78,16.1 473.8,18.6 C474.82,21.1 476.22,25.43 477.4,29.4 C478.58,33.37 479.92,38.55 480.9,42.4 C481.88,46.25 482.62,48.15 483.3,52.5 C483.98,56.85 484.25,64.35 485,68.5 C485.75,72.65 486.77,74.98 487.8,77.4 C488.83,79.82 489.7,80.95 491.2,83 C492.7,85.05 494.93,87.65 496.8,89.7 C498.67,91.75 500.53,93.62 502.4,95.3 C504.27,96.98 506.13,98.48 508,99.8 C509.87,101.12 511.75,101.98 513.6,103.2 C515.45,104.42 516.95,105.73 519.1,107.1 C521.25,108.47 524.3,110.48 526.5,111.4 C528.7,112.32 530.6,112.53 532.3,112.6 C534,112.67 534.98,112.17 536.7,111.8 C538.42,111.43 540.65,110.52 542.6,110.4 C544.55,110.28 546.47,110.78 548.4,111.1 C550.33,111.42 552.02,111.93 554.2,112.3 C556.38,112.67 559.3,112.77 561.5,113.3 C563.7,113.83 565.45,114.53 567.4,115.5 C569.35,116.47 571.02,117.88 573.2,119.1 C575.38,120.32 578.08,122.05 580.5,122.8 C582.92,123.55 585.23,123.7 587.7,123.6 C590.17,123.5 592.75,122.87 595.3,122.2 C597.85,121.53 600.43,120.18 603,119.6 C605.57,119.02 608.4,118.52 610.7,118.7 C613,118.88 615.02,119.6 616.8,120.7 C618.58,121.8 619.62,123.52 621.4,125.3 C623.18,127.08 625.47,129.62 627.5,131.4 C629.53,133.18 631.3,134.33 633.6,136 C635.9,137.67 639,139.98 641.3,141.4 C643.6,142.82 645.35,144.12 647.4,144.5 C649.45,144.88 651.68,143.58 653.6,143.7 C655.52,143.82 657.25,144.05 658.9,145.2 C660.55,146.35 662.08,148.17 663.5,150.6 C664.92,153.03 666.25,156.62 667.4,159.8 C668.55,162.98 669.83,167.67 670.4,169.7 C670.97,171.73 670.73,171.62 670.8,172" stroke="#66a84a"/>
<path d="M445.4,172 C445.43,171.6 445.33,172.6 445.6,169.6 C445.87,166.6 446.53,159.6 447,154 C447.47,148.4 447.9,142 448.4,136 C448.9,130 449.5,124 450,118 C450.5,112 450.92,105.82 451.4,100 C451.88,94.18 452.4,88.3 452.9,83.1 C453.4,77.9 453.83,73.58 454.4,68.8 C454.97,64.02 455.58,59.2 456.3,54.4 C457.02,49.6 457.98,44.15 458.7,40 C459.42,35.85 459.77,33.07 460.6,29.5 C461.43,25.93 462.8,21.15 463.7,18.6 C464.6,16.05 465.17,15.15 466,14.2 C466.83,13.25 467.82,12.87 468.7,12.9 C469.58,12.93 470.45,13.45 471.3,14.4 C472.15,15.35 472.78,16.1 473.8,18.6 C474.82,21.1 476.22,25.43 477.4,29.4 C478.58,33.37 479.92,38.55 480.9,42.4 C481.88,46.25 482.75,50.15 483.3,52.5 C483.85,54.85 484.05,55.83 484.2,56.5" stroke="#737b56"/>
<line x1="483.2" y1="3.8" x2="483.2" y2="169.8" stroke="#7c3d88" stroke-width="1.6"/>
<line x1="485.1" y1="3.8" x2="485.1" y2="169.8" stroke="#66a84a" stroke-width="1.6"/>
</g>
<text x="403.6" y="165.8" font-family="'Liberation Sans', sans-serif" font-size="13.4" text-anchor="start" fill="#111" font-weight="bold" font-style="normal" >B</text>
<text x="462.3" y="196.6" font-family="'Liberation Sans', sans-serif" font-size="14.1" text-anchor="start" fill="#1e1e1e" font-weight="normal" font-style="normal" >Price uncertainty (%), </text>
<text x="601.5" y="196.6" font-family="'Liberation Serif', serif" font-size="16.5" fill="#1e1e1e"><tspan font-style="italic">U</tspan><tspan font-style="italic" font-size="12" dy="3.6" letter-spacing="0.6">h,m</tspan></text>
<g transform="translate(356.8,0) rotate(-90)">
<text x="-129.2" y="0" font-family="'Liberation Sans', sans-serif" font-size="11.2" fill="#1e1e1e">PDF</text>
</g>
<g transform="translate(357.6,0) rotate(-90)" fill="#1e1e1e"><text x="-94.5" y="0" font-family="'Liberation Serif', serif" font-style="italic" font-size="14.5">P</text><text x="-84.5" y="0" font-family="'Liberation Serif', serif" font-style="normal" font-size="13.5">(</text><text x="-78.4" y="0" font-family="'Liberation Serif', serif" font-style="italic" font-size="14.5">U</text><text x="-66.2" y="3.4" font-family="'Liberation Serif', serif" font-style="italic" font-size="10.5" letter-spacing="0.4">h,m</text><text x="-46.5" y="0" font-family="'Liberation Serif', serif" font-style="normal" font-size="13.5">)</text></g>
</g>
<g id="C">
<line x1="51.6" y1="213.3" x2="51.6" y2="380.1" stroke="#3a3a3a" stroke-width="1.2"/>
<line x1="51" y1="380.1" x2="335.1" y2="380.1" stroke="#3a3a3a" stroke-width="1.2"/>
<line x1="51" y1="213.3" x2="335.1" y2="213.3" stroke="#3a3a3a" stroke-width="1.2"/>
<line x1="334.5" y1="213.3" x2="334.5" y2="380.1" stroke="#3a3a3a" stroke-width="1.2"/>
<line x1="68.9" y1="380.1" x2="68.9" y2="378.3" stroke="#444" stroke-width="0.9"/>
<line x1="68.9" y1="213.3" x2="68.9" y2="215.1" stroke="#444" stroke-width="0.9"/>
<line x1="82.3" y1="380.1" x2="82.3" y2="378.3" stroke="#444" stroke-width="0.9"/>
<line x1="82.3" y1="213.3" x2="82.3" y2="215.1" stroke="#444" stroke-width="0.9"/>
<line x1="92.7" y1="380.1" x2="92.7" y2="376.6" stroke="#444" stroke-width="0.9"/>
<line x1="92.7" y1="213.3" x2="92.7" y2="216.8" stroke="#444" stroke-width="0.9"/>
<line x1="101.2" y1="380.1" x2="101.2" y2="378.3" stroke="#444" stroke-width="0.9"/>
<line x1="101.2" y1="213.3" x2="101.2" y2="215.1" stroke="#444" stroke-width="0.9"/>
<line x1="108.38" y1="380.1" x2="108.38" y2="378.3" stroke="#444" stroke-width="0.9"/>
<line x1="108.38" y1="213.3" x2="108.38" y2="215.1" stroke="#444" stroke-width="0.9"/>
<line x1="114.6" y1="380.1" x2="114.6" y2="378.3" stroke="#444" stroke-width="0.9"/>
<line x1="114.6" y1="213.3" x2="114.6" y2="215.1" stroke="#444" stroke-width="0.9"/>
<line x1="120.09" y1="380.1" x2="120.09" y2="378.3" stroke="#444" stroke-width="0.9"/>
<line x1="120.09" y1="213.3" x2="120.09" y2="215.1" stroke="#444" stroke-width="0.9"/>
<line x1="125" y1="380.1" x2="125" y2="376.6" stroke="#444" stroke-width="0.9"/>
<line x1="125" y1="213.3" x2="125" y2="216.8" stroke="#444" stroke-width="0.9"/>
<line x1="157.3" y1="380.1" x2="157.3" y2="378.3" stroke="#444" stroke-width="0.9"/>
<line x1="157.3" y1="213.3" x2="157.3" y2="215.1" stroke="#444" stroke-width="0.9"/>
<line x1="176.2" y1="380.1" x2="176.2" y2="378.3" stroke="#444" stroke-width="0.9"/>
<line x1="176.2" y1="213.3" x2="176.2" y2="215.1" stroke="#444" stroke-width="0.9"/>
<line x1="189.6" y1="380.1" x2="189.6" y2="378.3" stroke="#444" stroke-width="0.9"/>
<line x1="189.6" y1="213.3" x2="189.6" y2="215.1" stroke="#444" stroke-width="0.9"/>
<line x1="200" y1="380.1" x2="200" y2="376.6" stroke="#444" stroke-width="0.9"/>
<line x1="200" y1="213.3" x2="200" y2="216.8" stroke="#444" stroke-width="0.9"/>
<line x1="208.5" y1="380.1" x2="208.5" y2="378.3" stroke="#444" stroke-width="0.9"/>
<line x1="208.5" y1="213.3" x2="208.5" y2="215.1" stroke="#444" stroke-width="0.9"/>
<line x1="215.68" y1="380.1" x2="215.68" y2="378.3" stroke="#444" stroke-width="0.9"/>
<line x1="215.68" y1="213.3" x2="215.68" y2="215.1" stroke="#444" stroke-width="0.9"/>
<line x1="221.9" y1="380.1" x2="221.9" y2="378.3" stroke="#444" stroke-width="0.9"/>
<line x1="221.9" y1="213.3" x2="221.9" y2="215.1" stroke="#444" stroke-width="0.9"/>
<line x1="227.39" y1="380.1" x2="227.39" y2="378.3" stroke="#444" stroke-width="0.9"/>
<line x1="227.39" y1="213.3" x2="227.39" y2="215.1" stroke="#444" stroke-width="0.9"/>
<line x1="232.3" y1="380.1" x2="232.3" y2="376.6" stroke="#444" stroke-width="0.9"/>
<line x1="232.3" y1="213.3" x2="232.3" y2="216.8" stroke="#444" stroke-width="0.9"/>
<line x1="264.6" y1="380.1" x2="264.6" y2="378.3" stroke="#444" stroke-width="0.9"/>
<line x1="264.6" y1="213.3" x2="264.6" y2="215.1" stroke="#444" stroke-width="0.9"/>
<line x1="283.5" y1="380.1" x2="283.5" y2="378.3" stroke="#444" stroke-width="0.9"/>
<line x1="283.5" y1="213.3" x2="283.5" y2="215.1" stroke="#444" stroke-width="0.9"/>
<line x1="296.9" y1="380.1" x2="296.9" y2="378.3" stroke="#444" stroke-width="0.9"/>
<line x1="296.9" y1="213.3" x2="296.9" y2="215.1" stroke="#444" stroke-width="0.9"/>
<line x1="307.3" y1="380.1" x2="307.3" y2="376.6" stroke="#444" stroke-width="0.9"/>
<line x1="307.3" y1="213.3" x2="307.3" y2="216.8" stroke="#444" stroke-width="0.9"/>
<line x1="315.8" y1="380.1" x2="315.8" y2="378.3" stroke="#444" stroke-width="0.9"/>
<line x1="315.8" y1="213.3" x2="315.8" y2="215.1" stroke="#444" stroke-width="0.9"/>
<line x1="322.98" y1="380.1" x2="322.98" y2="378.3" stroke="#444" stroke-width="0.9"/>
<line x1="322.98" y1="213.3" x2="322.98" y2="215.1" stroke="#444" stroke-width="0.9"/>
<line x1="329.2" y1="380.1" x2="329.2" y2="378.3" stroke="#444" stroke-width="0.9"/>
<line x1="329.2" y1="213.3" x2="329.2" y2="215.1" stroke="#444" stroke-width="0.9"/>
<text x="92.3" y="392.2" font-family="'Liberation Sans', sans-serif" font-size="9.65" text-anchor="middle" fill="#2a2a2a">5<tspan dx="1.3">×</tspan><tspan dx="1.3">10</tspan><tspan font-size="6.56" dy="-3.8" dx="0.1">4</tspan></text>
<text x="124.6" y="392.2" font-family="'Liberation Sans', sans-serif" font-size="9.65" text-anchor="middle" fill="#2a2a2a">1<tspan dx="1.3">×</tspan><tspan dx="1.3">10</tspan><tspan font-size="6.56" dy="-3.8" dx="0.1">5</tspan></text>
<text x="199.6" y="392.2" font-family="'Liberation Sans', sans-serif" font-size="9.65" text-anchor="middle" fill="#2a2a2a">5<tspan dx="1.3">×</tspan><tspan dx="1.3">10</tspan><tspan font-size="6.56" dy="-3.8" dx="0.1">5</tspan></text>
<text x="231.9" y="392.2" font-family="'Liberation Sans', sans-serif" font-size="9.65" text-anchor="middle" fill="#2a2a2a">1<tspan dx="1.3">×</tspan><tspan dx="1.3">10</tspan><tspan font-size="6.56" dy="-3.8" dx="0.1">6</tspan></text>
<text x="306.9" y="392.2" font-family="'Liberation Sans', sans-serif" font-size="9.65" text-anchor="middle" fill="#2a2a2a">5<tspan dx="1.3">×</tspan><tspan dx="1.3">10</tspan><tspan font-size="6.56" dy="-3.8" dx="0.1">6</tspan></text>
<line x1="51.6" y1="379.58" x2="55.1" y2="379.58" stroke="#444" stroke-width="0.9"/>
<line x1="334.5" y1="379.58" x2="331" y2="379.58" stroke="#444" stroke-width="0.9"/>
<line x1="51.6" y1="375.14" x2="53.4" y2="375.14" stroke="#444" stroke-width="0.9"/>
<line x1="334.5" y1="375.14" x2="332.7" y2="375.14" stroke="#444" stroke-width="0.9"/>
<line x1="51.6" y1="370.71" x2="53.4" y2="370.71" stroke="#444" stroke-width="0.9"/>
<line x1="334.5" y1="370.71" x2="332.7" y2="370.71" stroke="#444" stroke-width="0.9"/>
<line x1="51.6" y1="366.27" x2="53.4" y2="366.27" stroke="#444" stroke-width="0.9"/>
<line x1="334.5" y1="366.27" x2="332.7" y2="366.27" stroke="#444" stroke-width="0.9"/>
<line x1="51.6" y1="361.84" x2="53.4" y2="361.84" stroke="#444" stroke-width="0.9"/>
<line x1="334.5" y1="361.84" x2="332.7" y2="361.84" stroke="#444" stroke-width="0.9"/>
<line x1="51.6" y1="357.4" x2="55.1" y2="357.4" stroke="#444" stroke-width="0.9"/>
<line x1="334.5" y1="357.4" x2="331" y2="357.4" stroke="#444" stroke-width="0.9"/>
<line x1="51.6" y1="352.96" x2="53.4" y2="352.96" stroke="#444" stroke-width="0.9"/>
<line x1="334.5" y1="352.96" x2="332.7" y2="352.96" stroke="#444" stroke-width="0.9"/>
<line x1="51.6" y1="348.53" x2="53.4" y2="348.53" stroke="#444" stroke-width="0.9"/>
<line x1="334.5" y1="348.53" x2="332.7" y2="348.53" stroke="#444" stroke-width="0.9"/>
<line x1="51.6" y1="344.09" x2="53.4" y2="344.09" stroke="#444" stroke-width="0.9"/>
<line x1="334.5" y1="344.09" x2="332.7" y2="344.09" stroke="#444" stroke-width="0.9"/>
<line x1="51.6" y1="339.66" x2="53.4" y2="339.66" stroke="#444" stroke-width="0.9"/>
<line x1="334.5" y1="339.66" x2="332.7" y2="339.66" stroke="#444" stroke-width="0.9"/>
<line x1="51.6" y1="335.22" x2="55.1" y2="335.22" stroke="#444" stroke-width="0.9"/>
<line x1="334.5" y1="335.22" x2="331" y2="335.22" stroke="#444" stroke-width="0.9"/>
<line x1="51.6" y1="330.78" x2="53.4" y2="330.78" stroke="#444" stroke-width="0.9"/>
<line x1="334.5" y1="330.78" x2="332.7" y2="330.78" stroke="#444" stroke-width="0.9"/>
<line x1="51.6" y1="326.35" x2="53.4" y2="326.35" stroke="#444" stroke-width="0.9"/>
<line x1="334.5" y1="326.35" x2="332.7" y2="326.35" stroke="#444" stroke-width="0.9"/>
<line x1="51.6" y1="321.91" x2="53.4" y2="321.91" stroke="#444" stroke-width="0.9"/>
<line x1="334.5" y1="321.91" x2="332.7" y2="321.91" stroke="#444" stroke-width="0.9"/>
<line x1="51.6" y1="317.48" x2="53.4" y2="317.48" stroke="#444" stroke-width="0.9"/>
<line x1="334.5" y1="317.48" x2="332.7" y2="317.48" stroke="#444" stroke-width="0.9"/>
<line x1="51.6" y1="313.04" x2="55.1" y2="313.04" stroke="#444" stroke-width="0.9"/>
<line x1="334.5" y1="313.04" x2="331" y2="313.04" stroke="#444" stroke-width="0.9"/>
<line x1="51.6" y1="308.6" x2="53.4" y2="308.6" stroke="#444" stroke-width="0.9"/>
<line x1="334.5" y1="308.6" x2="332.7" y2="308.6" stroke="#444" stroke-width="0.9"/>
<line x1="51.6" y1="304.17" x2="53.4" y2="304.17" stroke="#444" stroke-width="0.9"/>
<line x1="334.5" y1="304.17" x2="332.7" y2="304.17" stroke="#444" stroke-width="0.9"/>
<line x1="51.6" y1="299.73" x2="53.4" y2="299.73" stroke="#444" stroke-width="0.9"/>
<line x1="334.5" y1="299.73" x2="332.7" y2="299.73" stroke="#444" stroke-width="0.9"/>
<line x1="51.6" y1="295.3" x2="53.4" y2="295.3" stroke="#444" stroke-width="0.9"/>
<line x1="334.5" y1="295.3" x2="332.7" y2="295.3" stroke="#444" stroke-width="0.9"/>
<line x1="51.6" y1="290.86" x2="55.1" y2="290.86" stroke="#444" stroke-width="0.9"/>
<line x1="334.5" y1="290.86" x2="331" y2="290.86" stroke="#444" stroke-width="0.9"/>
<line x1="51.6" y1="286.42" x2="53.4" y2="286.42" stroke="#444" stroke-width="0.9"/>
<line x1="334.5" y1="286.42" x2="332.7" y2="286.42" stroke="#444" stroke-width="0.9"/>
<line x1="51.6" y1="281.99" x2="53.4" y2="281.99" stroke="#444" stroke-width="0.9"/>
<line x1="334.5" y1="281.99" x2="332.7" y2="281.99" stroke="#444" stroke-width="0.9"/>
<line x1="51.6" y1="277.55" x2="53.4" y2="277.55" stroke="#444" stroke-width="0.9"/>
<line x1="334.5" y1="277.55" x2="332.7" y2="277.55" stroke="#444" stroke-width="0.9"/>
<line x1="51.6" y1="273.12" x2="53.4" y2="273.12" stroke="#444" stroke-width="0.9"/>
<line x1="334.5" y1="273.12" x2="332.7" y2="273.12" stroke="#444" stroke-width="0.9"/>
<line x1="51.6" y1="268.68" x2="55.1" y2="268.68" stroke="#444" stroke-width="0.9"/>
<line x1="334.5" y1="268.68" x2="331" y2="268.68" stroke="#444" stroke-width="0.9"/>
<line x1="51.6" y1="264.24" x2="53.4" y2="264.24" stroke="#444" stroke-width="0.9"/>
<line x1="334.5" y1="264.24" x2="332.7" y2="264.24" stroke="#444" stroke-width="0.9"/>
<line x1="51.6" y1="259.81" x2="53.4" y2="259.81" stroke="#444" stroke-width="0.9"/>
<line x1="334.5" y1="259.81" x2="332.7" y2="259.81" stroke="#444" stroke-width="0.9"/>
<line x1="51.6" y1="255.37" x2="53.4" y2="255.37" stroke="#444" stroke-width="0.9"/>
<line x1="334.5" y1="255.37" x2="332.7" y2="255.37" stroke="#444" stroke-width="0.9"/>
<line x1="51.6" y1="250.94" x2="53.4" y2="250.94" stroke="#444" stroke-width="0.9"/>
<line x1="334.5" y1="250.94" x2="332.7" y2="250.94" stroke="#444" stroke-width="0.9"/>
<line x1="51.6" y1="246.5" x2="55.1" y2="246.5" stroke="#444" stroke-width="0.9"/>
<line x1="334.5" y1="246.5" x2="331" y2="246.5" stroke="#444" stroke-width="0.9"/>
<line x1="51.6" y1="242.06" x2="53.4" y2="242.06" stroke="#444" stroke-width="0.9"/>
<line x1="334.5" y1="242.06" x2="332.7" y2="242.06" stroke="#444" stroke-width="0.9"/>
<line x1="51.6" y1="237.63" x2="53.4" y2="237.63" stroke="#444" stroke-width="0.9"/>
<line x1="334.5" y1="237.63" x2="332.7" y2="237.63" stroke="#444" stroke-width="0.9"/>
<line x1="51.6" y1="233.19" x2="53.4" y2="233.19" stroke="#444" stroke-width="0.9"/>
<line x1="334.5" y1="233.19" x2="332.7" y2="233.19" stroke="#444" stroke-width="0.9"/>
<line x1="51.6" y1="228.76" x2="53.4" y2="228.76" stroke="#444" stroke-width="0.9"/>
<line x1="334.5" y1="228.76" x2="332.7" y2="228.76" stroke="#444" stroke-width="0.9"/>
<line x1="51.6" y1="224.32" x2="55.1" y2="224.32" stroke="#444" stroke-width="0.9"/>
<line x1="334.5" y1="224.32" x2="331" y2="224.32" stroke="#444" stroke-width="0.9"/>
<line x1="51.6" y1="219.88" x2="53.4" y2="219.88" stroke="#444" stroke-width="0.9"/>
<line x1="334.5" y1="219.88" x2="332.7" y2="219.88" stroke="#444" stroke-width="0.9"/>
<line x1="51.6" y1="215.45" x2="53.4" y2="215.45" stroke="#444" stroke-width="0.9"/>
<line x1="334.5" y1="215.45" x2="332.7" y2="215.45" stroke="#444" stroke-width="0.9"/>
<text x="49.6" y="383.18" font-family="'Liberation Sans', sans-serif" font-size="10.1" text-anchor="end" fill="#2a2a2a" font-weight="normal" font-style="normal" >−1</text>
<text x="49.6" y="361" font-family="'Liberation Sans', sans-serif" font-size="10.1" text-anchor="end" fill="#2a2a2a" font-weight="normal" font-style="normal" >0</text>
<text x="49.6" y="338.82" font-family="'Liberation Sans', sans-serif" font-size="10.1" text-anchor="end" fill="#2a2a2a" font-weight="normal" font-style="normal" >1</text>
<text x="49.6" y="316.64" font-family="'Liberation Sans', sans-serif" font-size="10.1" text-anchor="end" fill="#2a2a2a" font-weight="normal" font-style="normal" >2</text>
<text x="49.6" y="294.46" font-family="'Liberation Sans', sans-serif" font-size="10.1" text-anchor="end" fill="#2a2a2a" font-weight="normal" font-style="normal" >3</text>
<text x="49.6" y="272.28" font-family="'Liberation Sans', sans-serif" font-size="10.1" text-anchor="end" fill="#2a2a2a" font-weight="normal" font-style="normal" >4</text>
<text x="49.6" y="250.1" font-family="'Liberation Sans', sans-serif" font-size="10.1" text-anchor="end" fill="#2a2a2a" font-weight="normal" font-style="normal" >5</text>
<text x="49.6" y="227.92" font-family="'Liberation Sans', sans-serif" font-size="10.1" text-anchor="end" fill="#2a2a2a" font-weight="normal" font-style="normal" >6</text>
<line x1="51.6" y1="357.4" x2="334.5" y2="357.4" stroke="#888" stroke-width="1.1"/>
<path d="M79.5,336.9 L101.8,336.9 L124.3,336.9 L146.5,336.9 L168.6,338.2 L191,346.4 L213.3,350.7 L235.6,344.7 L258,329.9 L280.4,313.6 L303.3,361.3" fill="none" stroke="#8e529a" stroke-width="1.45" stroke-dasharray="2.5,0.75" stroke-linejoin="round"/>
<circle cx="79.5" cy="336.9" r="1.55" fill="#7d4585"/>
<circle cx="101.8" cy="336.9" r="1.55" fill="#7d4585"/>
<circle cx="124.3" cy="336.9" r="1.55" fill="#7d4585"/>
<circle cx="146.5" cy="336.9" r="1.55" fill="#7d4585"/>
<circle cx="168.6" cy="338.2" r="1.55" fill="#7d4585"/>
<circle cx="191" cy="346.4" r="1.55" fill="#7d4585"/>
<circle cx="213.3" cy="350.7" r="1.55" fill="#7d4585"/>
<circle cx="235.6" cy="344.7" r="1.55" fill="#7d4585"/>
<circle cx="258" cy="329.9" r="1.55" fill="#7d4585"/>
<circle cx="280.4" cy="313.6" r="1.55" fill="#7d4585"/>
<circle cx="303.3" cy="361.3" r="1.55" fill="#7d4585"/>
<path d="M83.1,336.3 L95.8,335.6 L108.5,335.4 L121.2,335.2 L133.9,335 L146.5,335 L159.3,334.2 L172.1,334.6 L185,334.6 L197.8,335 L210.6,332.2 L223,334.5" fill="none" stroke="#7cb65a" stroke-width="1.45" stroke-dasharray="2.5,0.75" stroke-linejoin="round"/>
<circle cx="83.1" cy="336.3" r="1.55" fill="#6aa64e"/>
<circle cx="95.8" cy="335.6" r="1.55" fill="#6aa64e"/>
<circle cx="108.5" cy="335.4" r="1.55" fill="#6aa64e"/>
<circle cx="121.2" cy="335.2" r="1.55" fill="#6aa64e"/>
<circle cx="133.9" cy="335" r="1.55" fill="#6aa64e"/>
<circle cx="146.5" cy="335" r="1.55" fill="#6aa64e"/>
<circle cx="159.3" cy="334.2" r="1.55" fill="#6aa64e"/>
<circle cx="172.1" cy="334.6" r="1.55" fill="#6aa64e"/>
<circle cx="185" cy="334.6" r="1.55" fill="#6aa64e"/>
<circle cx="197.8" cy="335" r="1.55" fill="#6aa64e"/>
<circle cx="210.6" cy="332.2" r="1.55" fill="#6aa64e"/>
<circle cx="223" cy="334.5" r="1.55" fill="#6aa64e"/>
<path d="M79.6,307.2 L102.1,306.6 L124.6,305.8 L146.6,305.8 L169,303.1 L191.6,301.6 L214,304.9 L236.3,292.5 L258.6,263.7 L281.2,265.1 L303.6,219.6" fill="none" stroke="#7c3d88" stroke-width="1.7" stroke-linejoin="round"/>
<circle cx="79.6" cy="307.2" r="1.8" fill="#70357b"/>
<circle cx="102.1" cy="306.6" r="1.8" fill="#70357b"/>
<circle cx="124.6" cy="305.8" r="1.8" fill="#70357b"/>
<circle cx="146.6" cy="305.8" r="1.8" fill="#70357b"/>
<circle cx="169" cy="303.1" r="1.8" fill="#70357b"/>
<circle cx="191.6" cy="301.6" r="1.8" fill="#70357b"/>
<circle cx="214" cy="304.9" r="1.8" fill="#70357b"/>
<circle cx="236.3" cy="292.5" r="1.8" fill="#70357b"/>
<circle cx="258.6" cy="263.7" r="1.8" fill="#70357b"/>
<circle cx="281.2" cy="265.1" r="1.8" fill="#70357b"/>
<circle cx="303.6" cy="219.6" r="1.8" fill="#70357b"/>
<path d="M55.1,300.8 L74.9,300.8 L94.9,300.4 L114.9,298.4 L134.8,297.2 L154.6,296.3 L174.6,292.3 L194.4,276.4 L214.8,262 L234.7,257.5" fill="none" stroke="#66a84a" stroke-width="1.7" stroke-linejoin="round"/>
<circle cx="55.1" cy="300.8" r="1.8" fill="#5c9946"/>
<circle cx="74.9" cy="300.8" r="1.8" fill="#5c9946"/>
<circle cx="94.9" cy="300.4" r="1.8" fill="#5c9946"/>
<circle cx="114.9" cy="298.4" r="1.8" fill="#5c9946"/>
<circle cx="134.8" cy="297.2" r="1.8" fill="#5c9946"/>
<circle cx="154.6" cy="296.3" r="1.8" fill="#5c9946"/>
<circle cx="174.6" cy="292.3" r="1.8" fill="#5c9946"/>
<circle cx="194.4" cy="276.4" r="1.8" fill="#5c9946"/>
<circle cx="214.8" cy="262" r="1.8" fill="#5c9946"/>
<circle cx="234.7" cy="257.5" r="1.8" fill="#5c9946"/>
<path d="M70.8,225.6 L90.4,225.6" stroke="#8e529a" stroke-width="1.7" stroke-dasharray="3.2,0.8"/>
<line x1="70.8" y1="243.3" x2="90.8" y2="243.3" stroke="#7c3d88" stroke-width="1.9"/>
<path d="M70.8,261.2 L90.4,261.2" stroke="#7cb65a" stroke-width="1.7" stroke-dasharray="3.2,0.8"/>
<line x1="70.8" y1="278.6" x2="90.8" y2="278.6" stroke="#66a84a" stroke-width="1.9"/>
<text x="96.8" y="228.3" font-family="'Liberation Sans', sans-serif" font-size="7.7" text-anchor="start" fill="#1e1e1e" font-weight="normal" font-style="normal" >Big Market: before 2020</text>
<text x="96.8" y="246.1" font-family="'Liberation Sans', sans-serif" font-size="7.7" text-anchor="start" fill="#1e1e1e" font-weight="normal" font-style="normal" >after 1/2020</text>
<text x="96.8" y="264.1" font-family="'Liberation Sans', sans-serif" font-size="7.7" text-anchor="start" fill="#1e1e1e" font-weight="normal" font-style="normal" >Small Market: before 2020</text>
<text x="96.8" y="281.5" font-family="'Liberation Sans', sans-serif" font-size="7.7" text-anchor="start" fill="#1e1e1e" font-weight="normal" font-style="normal" >after 1/2020</text>
<text x="55.5" y="374.2" font-family="'Liberation Sans', sans-serif" font-size="14" text-anchor="start" fill="#111" font-weight="bold" font-style="normal" >C</text>
<g transform="translate(16.8,0) rotate(-90)"><text x="-384.4" y="0" font-family="'Liberation Sans', sans-serif" font-size="12.8" fill="#1e1e1e">Mean 30-day price change (%)</text></g>
<path d="M23.7,315.4 L29.65,320.4 L35.6,315.4" fill="none" stroke="#1e1e1e" stroke-width="0.9"/>
<g transform="translate(34.2,0) rotate(-90)" fill="#1e1e1e"><text x="-313.8" y="0" font-family="'Liberation Serif', serif" font-style="normal" font-size="14">Δ</text><text x="-304.8" y="0" font-family="'Liberation Serif', serif" font-style="italic" font-size="15.5">P</text><text x="-293" y="3.6" font-family="'Liberation Serif', serif" font-style="italic" font-size="11" letter-spacing="0.4">h,m</text></g>
<path d="M23.7,275.1 L29.65,270.1 L35.6,275.1" fill="none" stroke="#1e1e1e" stroke-width="0.9"/>
</g>
<g id="D">
<line x1="399.2" y1="210.5" x2="399.2" y2="377.4" stroke="#3a3a3a" stroke-width="1.2"/>
<line x1="398.6" y1="377.4" x2="683.6" y2="377.4" stroke="#3a3a3a" stroke-width="1.2"/>
<line x1="398.6" y1="210.5" x2="683.6" y2="210.5" stroke="#3a3a3a" stroke-width="1.2"/>
<line x1="683" y1="210.5" x2="683" y2="377.4" stroke="#3a3a3a" stroke-width="1.2"/>
<line x1="417.3" y1="377.4" x2="417.3" y2="375.6" stroke="#444" stroke-width="0.9"/>
<line x1="417.3" y1="210.5" x2="417.3" y2="212.3" stroke="#444" stroke-width="0.9"/>
<line x1="430.7" y1="377.4" x2="430.7" y2="375.6" stroke="#444" stroke-width="0.9"/>
<line x1="430.7" y1="210.5" x2="430.7" y2="212.3" stroke="#444" stroke-width="0.9"/>
<line x1="441.1" y1="377.4" x2="441.1" y2="373.9" stroke="#444" stroke-width="0.9"/>
<line x1="441.1" y1="210.5" x2="441.1" y2="214" stroke="#444" stroke-width="0.9"/>
<line x1="449.6" y1="377.4" x2="449.6" y2="375.6" stroke="#444" stroke-width="0.9"/>
<line x1="449.6" y1="210.5" x2="449.6" y2="212.3" stroke="#444" stroke-width="0.9"/>
<line x1="456.78" y1="377.4" x2="456.78" y2="375.6" stroke="#444" stroke-width="0.9"/>
<line x1="456.78" y1="210.5" x2="456.78" y2="212.3" stroke="#444" stroke-width="0.9"/>
<line x1="463" y1="377.4" x2="463" y2="375.6" stroke="#444" stroke-width="0.9"/>
<line x1="463" y1="210.5" x2="463" y2="212.3" stroke="#444" stroke-width="0.9"/>
<line x1="468.49" y1="377.4" x2="468.49" y2="375.6" stroke="#444" stroke-width="0.9"/>
<line x1="468.49" y1="210.5" x2="468.49" y2="212.3" stroke="#444" stroke-width="0.9"/>
<line x1="473.4" y1="377.4" x2="473.4" y2="373.9" stroke="#444" stroke-width="0.9"/>
<line x1="473.4" y1="210.5" x2="473.4" y2="214" stroke="#444" stroke-width="0.9"/>
<line x1="505.7" y1="377.4" x2="505.7" y2="375.6" stroke="#444" stroke-width="0.9"/>
<line x1="505.7" y1="210.5" x2="505.7" y2="212.3" stroke="#444" stroke-width="0.9"/>
<line x1="524.6" y1="377.4" x2="524.6" y2="375.6" stroke="#444" stroke-width="0.9"/>
<line x1="524.6" y1="210.5" x2="524.6" y2="212.3" stroke="#444" stroke-width="0.9"/>
<line x1="538" y1="377.4" x2="538" y2="375.6" stroke="#444" stroke-width="0.9"/>
<line x1="538" y1="210.5" x2="538" y2="212.3" stroke="#444" stroke-width="0.9"/>
<line x1="548.4" y1="377.4" x2="548.4" y2="373.9" stroke="#444" stroke-width="0.9"/>
<line x1="548.4" y1="210.5" x2="548.4" y2="214" stroke="#444" stroke-width="0.9"/>
<line x1="556.9" y1="377.4" x2="556.9" y2="375.6" stroke="#444" stroke-width="0.9"/>
<line x1="556.9" y1="210.5" x2="556.9" y2="212.3" stroke="#444" stroke-width="0.9"/>
<line x1="564.08" y1="377.4" x2="564.08" y2="375.6" stroke="#444" stroke-width="0.9"/>
<line x1="564.08" y1="210.5" x2="564.08" y2="212.3" stroke="#444" stroke-width="0.9"/>
<line x1="570.3" y1="377.4" x2="570.3" y2="375.6" stroke="#444" stroke-width="0.9"/>
<line x1="570.3" y1="210.5" x2="570.3" y2="212.3" stroke="#444" stroke-width="0.9"/>
<line x1="575.79" y1="377.4" x2="575.79" y2="375.6" stroke="#444" stroke-width="0.9"/>
<line x1="575.79" y1="210.5" x2="575.79" y2="212.3" stroke="#444" stroke-width="0.9"/>
<line x1="580.7" y1="377.4" x2="580.7" y2="373.9" stroke="#444" stroke-width="0.9"/>
<line x1="580.7" y1="210.5" x2="580.7" y2="214" stroke="#444" stroke-width="0.9"/>
<line x1="613" y1="377.4" x2="613" y2="375.6" stroke="#444" stroke-width="0.9"/>
<line x1="613" y1="210.5" x2="613" y2="212.3" stroke="#444" stroke-width="0.9"/>
<line x1="631.9" y1="377.4" x2="631.9" y2="375.6" stroke="#444" stroke-width="0.9"/>
<line x1="631.9" y1="210.5" x2="631.9" y2="212.3" stroke="#444" stroke-width="0.9"/>
<line x1="645.3" y1="377.4" x2="645.3" y2="375.6" stroke="#444" stroke-width="0.9"/>
<line x1="645.3" y1="210.5" x2="645.3" y2="212.3" stroke="#444" stroke-width="0.9"/>
<line x1="655.7" y1="377.4" x2="655.7" y2="373.9" stroke="#444" stroke-width="0.9"/>
<line x1="655.7" y1="210.5" x2="655.7" y2="214" stroke="#444" stroke-width="0.9"/>
<line x1="664.2" y1="377.4" x2="664.2" y2="375.6" stroke="#444" stroke-width="0.9"/>
<line x1="664.2" y1="210.5" x2="664.2" y2="212.3" stroke="#444" stroke-width="0.9"/>
<line x1="671.38" y1="377.4" x2="671.38" y2="375.6" stroke="#444" stroke-width="0.9"/>
<line x1="671.38" y1="210.5" x2="671.38" y2="212.3" stroke="#444" stroke-width="0.9"/>
<line x1="677.6" y1="377.4" x2="677.6" y2="375.6" stroke="#444" stroke-width="0.9"/>
<line x1="677.6" y1="210.5" x2="677.6" y2="212.3" stroke="#444" stroke-width="0.9"/>
<text x="440.7" y="389.6" font-family="'Liberation Sans', sans-serif" font-size="9.65" text-anchor="middle" fill="#2a2a2a">5<tspan dx="1.3">×</tspan><tspan dx="1.3">10</tspan><tspan font-size="6.56" dy="-3.8" dx="0.1">4</tspan></text>
<text x="473" y="389.6" font-family="'Liberation Sans', sans-serif" font-size="9.65" text-anchor="middle" fill="#2a2a2a">1<tspan dx="1.3">×</tspan><tspan dx="1.3">10</tspan><tspan font-size="6.56" dy="-3.8" dx="0.1">5</tspan></text>
<text x="548" y="389.6" font-family="'Liberation Sans', sans-serif" font-size="9.65" text-anchor="middle" fill="#2a2a2a">5<tspan dx="1.3">×</tspan><tspan dx="1.3">10</tspan><tspan font-size="6.56" dy="-3.8" dx="0.1">5</tspan></text>
<text x="580.3" y="389.6" font-family="'Liberation Sans', sans-serif" font-size="9.65" text-anchor="middle" fill="#2a2a2a">1<tspan dx="1.3">×</tspan><tspan dx="1.3">10</tspan><tspan font-size="6.56" dy="-3.8" dx="0.1">6</tspan></text>
<text x="655.3" y="389.6" font-family="'Liberation Sans', sans-serif" font-size="9.65" text-anchor="middle" fill="#2a2a2a">5<tspan dx="1.3">×</tspan><tspan dx="1.3">10</tspan><tspan font-size="6.56" dy="-3.8" dx="0.1">6</tspan></text>
<line x1="399.2" y1="377.4" x2="402.7" y2="377.4" stroke="#444" stroke-width="0.9"/>
<line x1="683" y1="377.4" x2="679.5" y2="377.4" stroke="#444" stroke-width="0.9"/>
<line x1="399.2" y1="369.64" x2="401" y2="369.64" stroke="#444" stroke-width="0.9"/>
<line x1="683" y1="369.64" x2="681.2" y2="369.64" stroke="#444" stroke-width="0.9"/>
<line x1="399.2" y1="361.88" x2="401" y2="361.88" stroke="#444" stroke-width="0.9"/>
<line x1="683" y1="361.88" x2="681.2" y2="361.88" stroke="#444" stroke-width="0.9"/>
<line x1="399.2" y1="354.12" x2="401" y2="354.12" stroke="#444" stroke-width="0.9"/>
<line x1="683" y1="354.12" x2="681.2" y2="354.12" stroke="#444" stroke-width="0.9"/>
<line x1="399.2" y1="346.36" x2="401" y2="346.36" stroke="#444" stroke-width="0.9"/>
<line x1="683" y1="346.36" x2="681.2" y2="346.36" stroke="#444" stroke-width="0.9"/>
<line x1="399.2" y1="338.6" x2="402.7" y2="338.6" stroke="#444" stroke-width="0.9"/>
<line x1="683" y1="338.6" x2="679.5" y2="338.6" stroke="#444" stroke-width="0.9"/>
<line x1="399.2" y1="330.84" x2="401" y2="330.84" stroke="#444" stroke-width="0.9"/>
<line x1="683" y1="330.84" x2="681.2" y2="330.84" stroke="#444" stroke-width="0.9"/>
<line x1="399.2" y1="323.08" x2="401" y2="323.08" stroke="#444" stroke-width="0.9"/>
<line x1="683" y1="323.08" x2="681.2" y2="323.08" stroke="#444" stroke-width="0.9"/>
<line x1="399.2" y1="315.32" x2="401" y2="315.32" stroke="#444" stroke-width="0.9"/>
<line x1="683" y1="315.32" x2="681.2" y2="315.32" stroke="#444" stroke-width="0.9"/>
<line x1="399.2" y1="307.56" x2="401" y2="307.56" stroke="#444" stroke-width="0.9"/>
<line x1="683" y1="307.56" x2="681.2" y2="307.56" stroke="#444" stroke-width="0.9"/>
<line x1="399.2" y1="299.8" x2="402.7" y2="299.8" stroke="#444" stroke-width="0.9"/>
<line x1="683" y1="299.8" x2="679.5" y2="299.8" stroke="#444" stroke-width="0.9"/>
<line x1="399.2" y1="292.04" x2="401" y2="292.04" stroke="#444" stroke-width="0.9"/>
<line x1="683" y1="292.04" x2="681.2" y2="292.04" stroke="#444" stroke-width="0.9"/>
<line x1="399.2" y1="284.28" x2="401" y2="284.28" stroke="#444" stroke-width="0.9"/>
<line x1="683" y1="284.28" x2="681.2" y2="284.28" stroke="#444" stroke-width="0.9"/>
<line x1="399.2" y1="276.52" x2="401" y2="276.52" stroke="#444" stroke-width="0.9"/>
<line x1="683" y1="276.52" x2="681.2" y2="276.52" stroke="#444" stroke-width="0.9"/>
<line x1="399.2" y1="268.76" x2="401" y2="268.76" stroke="#444" stroke-width="0.9"/>
<line x1="683" y1="268.76" x2="681.2" y2="268.76" stroke="#444" stroke-width="0.9"/>
<line x1="399.2" y1="261" x2="402.7" y2="261" stroke="#444" stroke-width="0.9"/>
<line x1="683" y1="261" x2="679.5" y2="261" stroke="#444" stroke-width="0.9"/>
<line x1="399.2" y1="253.24" x2="401" y2="253.24" stroke="#444" stroke-width="0.9"/>
<line x1="683" y1="253.24" x2="681.2" y2="253.24" stroke="#444" stroke-width="0.9"/>
<line x1="399.2" y1="245.48" x2="401" y2="245.48" stroke="#444" stroke-width="0.9"/>
<line x1="683" y1="245.48" x2="681.2" y2="245.48" stroke="#444" stroke-width="0.9"/>
<line x1="399.2" y1="237.72" x2="401" y2="237.72" stroke="#444" stroke-width="0.9"/>
<line x1="683" y1="237.72" x2="681.2" y2="237.72" stroke="#444" stroke-width="0.9"/>
<line x1="399.2" y1="229.96" x2="401" y2="229.96" stroke="#444" stroke-width="0.9"/>
<line x1="683" y1="229.96" x2="681.2" y2="229.96" stroke="#444" stroke-width="0.9"/>
<line x1="399.2" y1="222.2" x2="402.7" y2="222.2" stroke="#444" stroke-width="0.9"/>
<line x1="683" y1="222.2" x2="679.5" y2="222.2" stroke="#444" stroke-width="0.9"/>
<line x1="399.2" y1="214.44" x2="401" y2="214.44" stroke="#444" stroke-width="0.9"/>
<line x1="683" y1="214.44" x2="681.2" y2="214.44" stroke="#444" stroke-width="0.9"/>
<text x="397.4" y="381" font-family="'Liberation Sans', sans-serif" font-size="10.1" text-anchor="end" fill="#2a2a2a" font-weight="normal" font-style="normal" >11</text>
<text x="397.4" y="342.2" font-family="'Liberation Sans', sans-serif" font-size="10.1" text-anchor="end" fill="#2a2a2a" font-weight="normal" font-style="normal" >12</text>
<text x="397.4" y="303.4" font-family="'Liberation Sans', sans-serif" font-size="10.1" text-anchor="end" fill="#2a2a2a" font-weight="normal" font-style="normal" >13</text>
<text x="397.4" y="264.6" font-family="'Liberation Sans', sans-serif" font-size="10.1" text-anchor="end" fill="#2a2a2a" font-weight="normal" font-style="normal" >14</text>
<text x="397.4" y="225.8" font-family="'Liberation Sans', sans-serif" font-size="10.1" text-anchor="end" fill="#2a2a2a" font-weight="normal" font-style="normal" >15</text>
<path d="M428.6,319.5 L452.8,319.5 L477.2,321.1 L501.5,324.7 L525.8,324.7 L550,317.9 L574.4,323.2 L598.8,319.3 L623.3,319.2 L647.8,271.2" fill="none" stroke="#8e529a" stroke-width="1.45" stroke-dasharray="2.5,0.75" stroke-linejoin="round"/>
<circle cx="428.6" cy="319.5" r="1.55" fill="#7d4585"/>
<circle cx="452.8" cy="319.5" r="1.55" fill="#7d4585"/>
<circle cx="477.2" cy="321.1" r="1.55" fill="#7d4585"/>
<circle cx="501.5" cy="324.7" r="1.55" fill="#7d4585"/>
<circle cx="525.8" cy="324.7" r="1.55" fill="#7d4585"/>
<circle cx="550" cy="317.9" r="1.55" fill="#7d4585"/>
<circle cx="574.4" cy="323.2" r="1.55" fill="#7d4585"/>
<circle cx="598.8" cy="319.3" r="1.55" fill="#7d4585"/>
<circle cx="623.3" cy="319.2" r="1.55" fill="#7d4585"/>
<circle cx="647.8" cy="271.2" r="1.55" fill="#7d4585"/>
<path d="M431.1,302.4 L445.1,302.4 L459.1,302.4 L473.1,302.4 L487.1,303.2 L501.1,305.4 L515.1,308.2 L529,287.9 L542.8,246.4 L556.8,234.2 L570.7,224.9" fill="none" stroke="#7cb65a" stroke-width="1.45" stroke-dasharray="2.5,0.75" stroke-linejoin="round"/>
<circle cx="431.1" cy="302.4" r="1.55" fill="#6aa64e"/>
<circle cx="445.1" cy="302.4" r="1.55" fill="#6aa64e"/>
<circle cx="459.1" cy="302.4" r="1.55" fill="#6aa64e"/>
<circle cx="473.1" cy="302.4" r="1.55" fill="#6aa64e"/>
<circle cx="487.1" cy="303.2" r="1.55" fill="#6aa64e"/>
<circle cx="501.1" cy="305.4" r="1.55" fill="#6aa64e"/>
<circle cx="515.1" cy="308.2" r="1.55" fill="#6aa64e"/>
<circle cx="529" cy="287.9" r="1.55" fill="#6aa64e"/>
<circle cx="542.8" cy="246.4" r="1.55" fill="#6aa64e"/>
<circle cx="556.8" cy="234.2" r="1.55" fill="#6aa64e"/>
<circle cx="570.7" cy="224.9" r="1.55" fill="#6aa64e"/>
<path d="M428.6,344.2 L452.8,344.2 L477.2,344 L501.5,345.1 L526.1,356 L550.3,360.6 L574.4,358.6 L599.5,347.1 L624.8,342.6 L649.2,364.8" fill="none" stroke="#7c3d88" stroke-width="1.7" stroke-linejoin="round"/>
<circle cx="428.6" cy="344.2" r="1.8" fill="#70357b"/>
<circle cx="452.8" cy="344.2" r="1.8" fill="#70357b"/>
<circle cx="477.2" cy="344" r="1.8" fill="#70357b"/>
<circle cx="501.5" cy="345.1" r="1.8" fill="#70357b"/>
<circle cx="526.1" cy="356" r="1.8" fill="#70357b"/>
<circle cx="550.3" cy="360.6" r="1.8" fill="#70357b"/>
<circle cx="574.4" cy="358.6" r="1.8" fill="#70357b"/>
<circle cx="599.5" cy="347.1" r="1.8" fill="#70357b"/>
<circle cx="624.8" cy="342.6" r="1.8" fill="#70357b"/>
<circle cx="649.2" cy="364.8" r="1.8" fill="#70357b"/>
<path d="M403.7,332.7 L425.5,332.7 L447.4,332.7 L469.4,332.9 L491.3,332.9 L513,337.6 L534.6,348.3 L556.3,303.5 L577.9,272.3" fill="none" stroke="#66a84a" stroke-width="1.7" stroke-linejoin="round"/>
<circle cx="403.7" cy="332.7" r="1.8" fill="#5c9946"/>
<circle cx="425.5" cy="332.7" r="1.8" fill="#5c9946"/>
<circle cx="447.4" cy="332.7" r="1.8" fill="#5c9946"/>
<circle cx="469.4" cy="332.9" r="1.8" fill="#5c9946"/>
<circle cx="491.3" cy="332.9" r="1.8" fill="#5c9946"/>
<circle cx="513" cy="337.6" r="1.8" fill="#5c9946"/>
<circle cx="534.6" cy="348.3" r="1.8" fill="#5c9946"/>
<circle cx="556.3" cy="303.5" r="1.8" fill="#5c9946"/>
<circle cx="577.9" cy="272.3" r="1.8" fill="#5c9946"/>
<text x="404.9" y="374" font-family="'Liberation Sans', sans-serif" font-size="14" text-anchor="start" fill="#111" font-weight="bold" font-style="normal" >D</text>
<g transform="translate(361,0) rotate(-90)"><text x="-375.7" y="0" font-family="'Liberation Sans', sans-serif" font-size="13.0" fill="#1e1e1e">Mean price uncertainty (%)</text></g>
<path d="M367.3,312.1 L373.85,315.7 L380.4,312.1" fill="none" stroke="#1e1e1e" stroke-width="0.9"/>
<g transform="translate(376.5,0) rotate(-90)" fill="#1e1e1e"><text x="-311.2" y="0" font-family="'Liberation Serif', serif" font-style="italic" font-size="15">U</text><text x="-300.3" y="3.6" font-family="'Liberation Serif', serif" font-style="italic" font-size="11" letter-spacing="0.4">h,m</text></g>
<path d="M367.3,281.1 L373.85,277.5 L380.4,281.1" fill="none" stroke="#1e1e1e" stroke-width="0.9"/>
</g>
<g id="E">
<line x1="50.6" y1="416.3" x2="50.6" y2="583.4" stroke="#3a3a3a" stroke-width="1.2"/>
<line x1="50" y1="583.4" x2="335" y2="583.4" stroke="#3a3a3a" stroke-width="1.2"/>
<line x1="50" y1="416.3" x2="335" y2="416.3" stroke="#3a3a3a" stroke-width="1.2"/>
<line x1="334.4" y1="416.3" x2="334.4" y2="583.4" stroke="#3a3a3a" stroke-width="1.2"/>
<line x1="68.9" y1="583.4" x2="68.9" y2="581.6" stroke="#444" stroke-width="0.9"/>
<line x1="68.9" y1="416.3" x2="68.9" y2="418.1" stroke="#444" stroke-width="0.9"/>
<line x1="82.3" y1="583.4" x2="82.3" y2="581.6" stroke="#444" stroke-width="0.9"/>
<line x1="82.3" y1="416.3" x2="82.3" y2="418.1" stroke="#444" stroke-width="0.9"/>
<line x1="92.7" y1="583.4" x2="92.7" y2="579.9" stroke="#444" stroke-width="0.9"/>
<line x1="92.7" y1="416.3" x2="92.7" y2="419.8" stroke="#444" stroke-width="0.9"/>
<line x1="101.2" y1="583.4" x2="101.2" y2="581.6" stroke="#444" stroke-width="0.9"/>
<line x1="101.2" y1="416.3" x2="101.2" y2="418.1" stroke="#444" stroke-width="0.9"/>
<line x1="108.38" y1="583.4" x2="108.38" y2="581.6" stroke="#444" stroke-width="0.9"/>
<line x1="108.38" y1="416.3" x2="108.38" y2="418.1" stroke="#444" stroke-width="0.9"/>
<line x1="114.6" y1="583.4" x2="114.6" y2="581.6" stroke="#444" stroke-width="0.9"/>
<line x1="114.6" y1="416.3" x2="114.6" y2="418.1" stroke="#444" stroke-width="0.9"/>
<line x1="120.09" y1="583.4" x2="120.09" y2="581.6" stroke="#444" stroke-width="0.9"/>
<line x1="120.09" y1="416.3" x2="120.09" y2="418.1" stroke="#444" stroke-width="0.9"/>
<line x1="125" y1="583.4" x2="125" y2="579.9" stroke="#444" stroke-width="0.9"/>
<line x1="125" y1="416.3" x2="125" y2="419.8" stroke="#444" stroke-width="0.9"/>
<line x1="157.3" y1="583.4" x2="157.3" y2="581.6" stroke="#444" stroke-width="0.9"/>
<line x1="157.3" y1="416.3" x2="157.3" y2="418.1" stroke="#444" stroke-width="0.9"/>
<line x1="176.2" y1="583.4" x2="176.2" y2="581.6" stroke="#444" stroke-width="0.9"/>
<line x1="176.2" y1="416.3" x2="176.2" y2="418.1" stroke="#444" stroke-width="0.9"/>
<line x1="189.6" y1="583.4" x2="189.6" y2="581.6" stroke="#444" stroke-width="0.9"/>
<line x1="189.6" y1="416.3" x2="189.6" y2="418.1" stroke="#444" stroke-width="0.9"/>
<line x1="200" y1="583.4" x2="200" y2="579.9" stroke="#444" stroke-width="0.9"/>
<line x1="200" y1="416.3" x2="200" y2="419.8" stroke="#444" stroke-width="0.9"/>
<line x1="208.5" y1="583.4" x2="208.5" y2="581.6" stroke="#444" stroke-width="0.9"/>
<line x1="208.5" y1="416.3" x2="208.5" y2="418.1" stroke="#444" stroke-width="0.9"/>
<line x1="215.68" y1="583.4" x2="215.68" y2="581.6" stroke="#444" stroke-width="0.9"/>
<line x1="215.68" y1="416.3" x2="215.68" y2="418.1" stroke="#444" stroke-width="0.9"/>
<line x1="221.9" y1="583.4" x2="221.9" y2="581.6" stroke="#444" stroke-width="0.9"/>
<line x1="221.9" y1="416.3" x2="221.9" y2="418.1" stroke="#444" stroke-width="0.9"/>
<line x1="227.39" y1="583.4" x2="227.39" y2="581.6" stroke="#444" stroke-width="0.9"/>
<line x1="227.39" y1="416.3" x2="227.39" y2="418.1" stroke="#444" stroke-width="0.9"/>
<line x1="232.3" y1="583.4" x2="232.3" y2="579.9" stroke="#444" stroke-width="0.9"/>
<line x1="232.3" y1="416.3" x2="232.3" y2="419.8" stroke="#444" stroke-width="0.9"/>
<line x1="264.6" y1="583.4" x2="264.6" y2="581.6" stroke="#444" stroke-width="0.9"/>
<line x1="264.6" y1="416.3" x2="264.6" y2="418.1" stroke="#444" stroke-width="0.9"/>
<line x1="283.5" y1="583.4" x2="283.5" y2="581.6" stroke="#444" stroke-width="0.9"/>
<line x1="283.5" y1="416.3" x2="283.5" y2="418.1" stroke="#444" stroke-width="0.9"/>
<line x1="296.9" y1="583.4" x2="296.9" y2="581.6" stroke="#444" stroke-width="0.9"/>
<line x1="296.9" y1="416.3" x2="296.9" y2="418.1" stroke="#444" stroke-width="0.9"/>
<line x1="307.3" y1="583.4" x2="307.3" y2="579.9" stroke="#444" stroke-width="0.9"/>
<line x1="307.3" y1="416.3" x2="307.3" y2="419.8" stroke="#444" stroke-width="0.9"/>
<line x1="315.8" y1="583.4" x2="315.8" y2="581.6" stroke="#444" stroke-width="0.9"/>
<line x1="315.8" y1="416.3" x2="315.8" y2="418.1" stroke="#444" stroke-width="0.9"/>
<line x1="322.98" y1="583.4" x2="322.98" y2="581.6" stroke="#444" stroke-width="0.9"/>
<line x1="322.98" y1="416.3" x2="322.98" y2="418.1" stroke="#444" stroke-width="0.9"/>
<line x1="329.2" y1="583.4" x2="329.2" y2="581.6" stroke="#444" stroke-width="0.9"/>
<line x1="329.2" y1="416.3" x2="329.2" y2="418.1" stroke="#444" stroke-width="0.9"/>
<text x="92.3" y="595.6" font-family="'Liberation Sans', sans-serif" font-size="9.65" text-anchor="middle" fill="#2a2a2a">5<tspan dx="1.3">×</tspan><tspan dx="1.3">10</tspan><tspan font-size="6.56" dy="-3.8" dx="0.1">4</tspan></text>
<text x="124.6" y="595.6" font-family="'Liberation Sans', sans-serif" font-size="9.65" text-anchor="middle" fill="#2a2a2a">1<tspan dx="1.3">×</tspan><tspan dx="1.3">10</tspan><tspan font-size="6.56" dy="-3.8" dx="0.1">5</tspan></text>
<text x="199.6" y="595.6" font-family="'Liberation Sans', sans-serif" font-size="9.65" text-anchor="middle" fill="#2a2a2a">5<tspan dx="1.3">×</tspan><tspan dx="1.3">10</tspan><tspan font-size="6.56" dy="-3.8" dx="0.1">5</tspan></text>
<text x="231.9" y="595.6" font-family="'Liberation Sans', sans-serif" font-size="9.65" text-anchor="middle" fill="#2a2a2a">1<tspan dx="1.3">×</tspan><tspan dx="1.3">10</tspan><tspan font-size="6.56" dy="-3.8" dx="0.1">6</tspan></text>
<text x="306.9" y="595.6" font-family="'Liberation Sans', sans-serif" font-size="9.65" text-anchor="middle" fill="#2a2a2a">5<tspan dx="1.3">×</tspan><tspan dx="1.3">10</tspan><tspan font-size="6.56" dy="-3.8" dx="0.1">6</tspan></text>
<line x1="50.6" y1="583.4" x2="54.1" y2="583.4" stroke="#444" stroke-width="0.9"/>
<line x1="334.4" y1="583.4" x2="330.9" y2="583.4" stroke="#444" stroke-width="0.9"/>
<line x1="50.6" y1="577.4" x2="52.4" y2="577.4" stroke="#444" stroke-width="0.9"/>
<line x1="334.4" y1="577.4" x2="332.6" y2="577.4" stroke="#444" stroke-width="0.9"/>
<line x1="50.6" y1="571.4" x2="52.4" y2="571.4" stroke="#444" stroke-width="0.9"/>
<line x1="334.4" y1="571.4" x2="332.6" y2="571.4" stroke="#444" stroke-width="0.9"/>
<line x1="50.6" y1="565.4" x2="52.4" y2="565.4" stroke="#444" stroke-width="0.9"/>
<line x1="334.4" y1="565.4" x2="332.6" y2="565.4" stroke="#444" stroke-width="0.9"/>
<line x1="50.6" y1="559.4" x2="54.1" y2="559.4" stroke="#444" stroke-width="0.9"/>
<line x1="334.4" y1="559.4" x2="330.9" y2="559.4" stroke="#444" stroke-width="0.9"/>
<line x1="50.6" y1="553.4" x2="52.4" y2="553.4" stroke="#444" stroke-width="0.9"/>
<line x1="334.4" y1="553.4" x2="332.6" y2="553.4" stroke="#444" stroke-width="0.9"/>
<line x1="50.6" y1="547.4" x2="52.4" y2="547.4" stroke="#444" stroke-width="0.9"/>
<line x1="334.4" y1="547.4" x2="332.6" y2="547.4" stroke="#444" stroke-width="0.9"/>
<line x1="50.6" y1="541.4" x2="52.4" y2="541.4" stroke="#444" stroke-width="0.9"/>
<line x1="334.4" y1="541.4" x2="332.6" y2="541.4" stroke="#444" stroke-width="0.9"/>
<line x1="50.6" y1="535.4" x2="54.1" y2="535.4" stroke="#444" stroke-width="0.9"/>
<line x1="334.4" y1="535.4" x2="330.9" y2="535.4" stroke="#444" stroke-width="0.9"/>
<line x1="50.6" y1="529.4" x2="52.4" y2="529.4" stroke="#444" stroke-width="0.9"/>
<line x1="334.4" y1="529.4" x2="332.6" y2="529.4" stroke="#444" stroke-width="0.9"/>
<line x1="50.6" y1="523.4" x2="52.4" y2="523.4" stroke="#444" stroke-width="0.9"/>
<line x1="334.4" y1="523.4" x2="332.6" y2="523.4" stroke="#444" stroke-width="0.9"/>
<line x1="50.6" y1="517.4" x2="52.4" y2="517.4" stroke="#444" stroke-width="0.9"/>
<line x1="334.4" y1="517.4" x2="332.6" y2="517.4" stroke="#444" stroke-width="0.9"/>
<line x1="50.6" y1="511.4" x2="54.1" y2="511.4" stroke="#444" stroke-width="0.9"/>
<line x1="334.4" y1="511.4" x2="330.9" y2="511.4" stroke="#444" stroke-width="0.9"/>
<line x1="50.6" y1="505.4" x2="52.4" y2="505.4" stroke="#444" stroke-width="0.9"/>
<line x1="334.4" y1="505.4" x2="332.6" y2="505.4" stroke="#444" stroke-width="0.9"/>
<line x1="50.6" y1="499.4" x2="52.4" y2="499.4" stroke="#444" stroke-width="0.9"/>
<line x1="334.4" y1="499.4" x2="332.6" y2="499.4" stroke="#444" stroke-width="0.9"/>
<line x1="50.6" y1="493.4" x2="52.4" y2="493.4" stroke="#444" stroke-width="0.9"/>
<line x1="334.4" y1="493.4" x2="332.6" y2="493.4" stroke="#444" stroke-width="0.9"/>
<line x1="50.6" y1="487.4" x2="54.1" y2="487.4" stroke="#444" stroke-width="0.9"/>
<line x1="334.4" y1="487.4" x2="330.9" y2="487.4" stroke="#444" stroke-width="0.9"/>
<line x1="50.6" y1="481.4" x2="52.4" y2="481.4" stroke="#444" stroke-width="0.9"/>
<line x1="334.4" y1="481.4" x2="332.6" y2="481.4" stroke="#444" stroke-width="0.9"/>
<line x1="50.6" y1="475.4" x2="52.4" y2="475.4" stroke="#444" stroke-width="0.9"/>
<line x1="334.4" y1="475.4" x2="332.6" y2="475.4" stroke="#444" stroke-width="0.9"/>
<line x1="50.6" y1="469.4" x2="52.4" y2="469.4" stroke="#444" stroke-width="0.9"/>
<line x1="334.4" y1="469.4" x2="332.6" y2="469.4" stroke="#444" stroke-width="0.9"/>
<line x1="50.6" y1="463.4" x2="54.1" y2="463.4" stroke="#444" stroke-width="0.9"/>
<line x1="334.4" y1="463.4" x2="330.9" y2="463.4" stroke="#444" stroke-width="0.9"/>
<line x1="50.6" y1="457.4" x2="52.4" y2="457.4" stroke="#444" stroke-width="0.9"/>
<line x1="334.4" y1="457.4" x2="332.6" y2="457.4" stroke="#444" stroke-width="0.9"/>
<line x1="50.6" y1="451.4" x2="52.4" y2="451.4" stroke="#444" stroke-width="0.9"/>
<line x1="334.4" y1="451.4" x2="332.6" y2="451.4" stroke="#444" stroke-width="0.9"/>
<line x1="50.6" y1="445.4" x2="52.4" y2="445.4" stroke="#444" stroke-width="0.9"/>
<line x1="334.4" y1="445.4" x2="332.6" y2="445.4" stroke="#444" stroke-width="0.9"/>
<line x1="50.6" y1="439.4" x2="54.1" y2="439.4" stroke="#444" stroke-width="0.9"/>
<line x1="334.4" y1="439.4" x2="330.9" y2="439.4" stroke="#444" stroke-width="0.9"/>
<line x1="50.6" y1="433.4" x2="52.4" y2="433.4" stroke="#444" stroke-width="0.9"/>
<line x1="334.4" y1="433.4" x2="332.6" y2="433.4" stroke="#444" stroke-width="0.9"/>
<line x1="50.6" y1="427.4" x2="52.4" y2="427.4" stroke="#444" stroke-width="0.9"/>
<line x1="334.4" y1="427.4" x2="332.6" y2="427.4" stroke="#444" stroke-width="0.9"/>
<line x1="50.6" y1="421.4" x2="52.4" y2="421.4" stroke="#444" stroke-width="0.9"/>
<line x1="334.4" y1="421.4" x2="332.6" y2="421.4" stroke="#444" stroke-width="0.9"/>
<text x="49.6" y="587" font-family="'Liberation Sans', sans-serif" font-size="10.1" text-anchor="end" fill="#2a2a2a" font-weight="normal" font-style="normal" >0</text>
<text x="49.6" y="563" font-family="'Liberation Sans', sans-serif" font-size="10.1" text-anchor="end" fill="#2a2a2a" font-weight="normal" font-style="normal" >2</text>
<text x="49.6" y="539" font-family="'Liberation Sans', sans-serif" font-size="10.1" text-anchor="end" fill="#2a2a2a" font-weight="normal" font-style="normal" >4</text>
<text x="49.6" y="515" font-family="'Liberation Sans', sans-serif" font-size="10.1" text-anchor="end" fill="#2a2a2a" font-weight="normal" font-style="normal" >6</text>
<text x="49.6" y="491" font-family="'Liberation Sans', sans-serif" font-size="10.1" text-anchor="end" fill="#2a2a2a" font-weight="normal" font-style="normal" >8</text>
<text x="49.6" y="467" font-family="'Liberation Sans', sans-serif" font-size="10.1" text-anchor="end" fill="#2a2a2a" font-weight="normal" font-style="normal" >10</text>
<text x="49.6" y="443" font-family="'Liberation Sans', sans-serif" font-size="10.1" text-anchor="end" fill="#2a2a2a" font-weight="normal" font-style="normal" >12</text>
<path d="M78.6,505.2 L101.1,505.2 L123.6,505.2 L146.1,506.4 L168.6,508 L191,506.3 L212.8,500.9 L234.9,498.5 L257.3,487.8 L279.6,477.6 L302,484.2" fill="none" stroke="#8e529a" stroke-width="1.45" stroke-dasharray="2.5,0.75" stroke-linejoin="round"/>
<circle cx="78.6" cy="505.2" r="1.55" fill="#7d4585"/>
<circle cx="101.1" cy="505.2" r="1.55" fill="#7d4585"/>
<circle cx="123.6" cy="505.2" r="1.55" fill="#7d4585"/>
<circle cx="146.1" cy="506.4" r="1.55" fill="#7d4585"/>
<circle cx="168.6" cy="508" r="1.55" fill="#7d4585"/>
<circle cx="191" cy="506.3" r="1.55" fill="#7d4585"/>
<circle cx="212.8" cy="500.9" r="1.55" fill="#7d4585"/>
<circle cx="234.9" cy="498.5" r="1.55" fill="#7d4585"/>
<circle cx="257.3" cy="487.8" r="1.55" fill="#7d4585"/>
<circle cx="279.6" cy="477.6" r="1.55" fill="#7d4585"/>
<circle cx="302" cy="484.2" r="1.55" fill="#7d4585"/>
<path d="M82.7,518.6 L95.4,518.6 L108.1,519 L120.8,519 L133.6,519.3 L146.3,519.5 L159.1,520.1 L171.9,521.5 L184.6,518.9 L197.4,515.2 L210.2,516.9 L222.9,519.5" fill="none" stroke="#7cb65a" stroke-width="1.45" stroke-dasharray="2.5,0.75" stroke-linejoin="round"/>
<circle cx="82.7" cy="518.6" r="1.55" fill="#6aa64e"/>
<circle cx="95.4" cy="518.6" r="1.55" fill="#6aa64e"/>
<circle cx="108.1" cy="519" r="1.55" fill="#6aa64e"/>
<circle cx="120.8" cy="519" r="1.55" fill="#6aa64e"/>
<circle cx="133.6" cy="519.3" r="1.55" fill="#6aa64e"/>
<circle cx="146.3" cy="519.5" r="1.55" fill="#6aa64e"/>
<circle cx="159.1" cy="520.1" r="1.55" fill="#6aa64e"/>
<circle cx="171.9" cy="521.5" r="1.55" fill="#6aa64e"/>
<circle cx="184.6" cy="518.9" r="1.55" fill="#6aa64e"/>
<circle cx="197.4" cy="515.2" r="1.55" fill="#6aa64e"/>
<circle cx="210.2" cy="516.9" r="1.55" fill="#6aa64e"/>
<circle cx="222.9" cy="519.5" r="1.55" fill="#6aa64e"/>
<path d="M78.6,485.7 L101.1,485.9 L123.6,486.3 L146.1,486.8 L168.6,487.4 L191.1,484.8 L213.7,482.1 L235.8,477.4 L258.3,466.2 L280.8,458.6 L303.4,442.7" fill="none" stroke="#7c3d88" stroke-width="1.7" stroke-linejoin="round"/>
<circle cx="78.6" cy="485.7" r="1.8" fill="#70357b"/>
<circle cx="101.1" cy="485.9" r="1.8" fill="#70357b"/>
<circle cx="123.6" cy="486.3" r="1.8" fill="#70357b"/>
<circle cx="146.1" cy="486.8" r="1.8" fill="#70357b"/>
<circle cx="168.6" cy="487.4" r="1.8" fill="#70357b"/>
<circle cx="191.1" cy="484.8" r="1.8" fill="#70357b"/>
<circle cx="213.7" cy="482.1" r="1.8" fill="#70357b"/>
<circle cx="235.8" cy="477.4" r="1.8" fill="#70357b"/>
<circle cx="258.3" cy="466.2" r="1.8" fill="#70357b"/>
<circle cx="280.8" cy="458.6" r="1.8" fill="#70357b"/>
<circle cx="303.4" cy="442.7" r="1.8" fill="#70357b"/>
<path d="M54,494.1 L74.1,494.1 L94.3,494.5 L114.3,495.8 L134.2,496.8 L154.2,497.2 L174.2,499 L193.9,490.5 L214.3,474.1 L234.2,462.7" fill="none" stroke="#66a84a" stroke-width="1.7" stroke-linejoin="round"/>
<circle cx="54" cy="494.1" r="1.8" fill="#5c9946"/>
<circle cx="74.1" cy="494.1" r="1.8" fill="#5c9946"/>
<circle cx="94.3" cy="494.5" r="1.8" fill="#5c9946"/>
<circle cx="114.3" cy="495.8" r="1.8" fill="#5c9946"/>
<circle cx="134.2" cy="496.8" r="1.8" fill="#5c9946"/>
<circle cx="154.2" cy="497.2" r="1.8" fill="#5c9946"/>
<circle cx="174.2" cy="499" r="1.8" fill="#5c9946"/>
<circle cx="193.9" cy="490.5" r="1.8" fill="#5c9946"/>
<circle cx="214.3" cy="474.1" r="1.8" fill="#5c9946"/>
<circle cx="234.2" cy="462.7" r="1.8" fill="#5c9946"/>
<text x="55.5" y="578.8" font-family="'Liberation Sans', sans-serif" font-size="14" text-anchor="start" fill="#111" font-weight="bold" font-style="normal" >E</text>
<g transform="translate(16.4,0) rotate(-90)"><text x="-578.2" y="0" font-family="'Liberation Sans', sans-serif" font-size="12.2" fill="#1e1e1e">STD 30-day price change (%)</text></g>
<g transform="translate(33.3,0) rotate(-90)" fill="#1e1e1e"><text x="-532.8" y="0" font-family="'Liberation Serif', serif" font-style="italic" font-size="15">σ</text><text x="-523.4" y="0" font-family="'Liberation Serif', serif" font-style="normal" font-size="15">[</text><text x="-518.3" y="0" font-family="'Liberation Serif', serif" font-style="normal" font-size="15.5">Δ</text><text x="-508.2" y="0" font-family="'Liberation Serif', serif" font-style="italic" font-size="16">P</text><text x="-495.6" y="3.6" font-family="'Liberation Serif', serif" font-style="italic" font-size="11" letter-spacing="0.4">h,m</text><text x="-477.4" y="0" font-family="'Liberation Serif', serif" font-style="normal" font-size="15">]</text></g>
<text x="113.5" y="615" font-family="'Liberation Sans', sans-serif" font-size="14.1" text-anchor="start" fill="#1e1e1e" font-weight="normal" font-style="normal" >Price, </text>
<text x="154.0" y="615.0" font-family="'Liberation Serif', serif" font-size="16" fill="#1e1e1e"><tspan font-style="italic">P</tspan><tspan font-style="italic" font-size="12" dy="3.6" letter-spacing="0.6">h,m</tspan></text>
<text x="186.9" y="615" font-family="'Liberation Sans', sans-serif" font-size="14.2" text-anchor="start" fill="#1e1e1e" font-weight="normal" font-style="normal" >(2018 US$)</text>
</g>
<g id="F">
<line x1="398.5" y1="417.5" x2="398.5" y2="584.7" stroke="#3a3a3a" stroke-width="1.2"/>
<line x1="397.9" y1="584.7" x2="683.5" y2="584.7" stroke="#3a3a3a" stroke-width="1.2"/>
<line x1="397.9" y1="417.5" x2="683.5" y2="417.5" stroke="#3a3a3a" stroke-width="1.2"/>
<line x1="682.9" y1="417.5" x2="682.9" y2="584.7" stroke="#3a3a3a" stroke-width="1.2"/>
<line x1="417.6" y1="584.7" x2="417.6" y2="582.9" stroke="#444" stroke-width="0.9"/>
<line x1="417.6" y1="417.5" x2="417.6" y2="419.3" stroke="#444" stroke-width="0.9"/>
<line x1="431" y1="584.7" x2="431" y2="582.9" stroke="#444" stroke-width="0.9"/>
<line x1="431" y1="417.5" x2="431" y2="419.3" stroke="#444" stroke-width="0.9"/>
<line x1="441.4" y1="584.7" x2="441.4" y2="581.2" stroke="#444" stroke-width="0.9"/>
<line x1="441.4" y1="417.5" x2="441.4" y2="421" stroke="#444" stroke-width="0.9"/>
<line x1="449.9" y1="584.7" x2="449.9" y2="582.9" stroke="#444" stroke-width="0.9"/>
<line x1="449.9" y1="417.5" x2="449.9" y2="419.3" stroke="#444" stroke-width="0.9"/>
<line x1="457.08" y1="584.7" x2="457.08" y2="582.9" stroke="#444" stroke-width="0.9"/>
<line x1="457.08" y1="417.5" x2="457.08" y2="419.3" stroke="#444" stroke-width="0.9"/>
<line x1="463.3" y1="584.7" x2="463.3" y2="582.9" stroke="#444" stroke-width="0.9"/>
<line x1="463.3" y1="417.5" x2="463.3" y2="419.3" stroke="#444" stroke-width="0.9"/>
<line x1="468.79" y1="584.7" x2="468.79" y2="582.9" stroke="#444" stroke-width="0.9"/>
<line x1="468.79" y1="417.5" x2="468.79" y2="419.3" stroke="#444" stroke-width="0.9"/>
<line x1="473.7" y1="584.7" x2="473.7" y2="581.2" stroke="#444" stroke-width="0.9"/>
<line x1="473.7" y1="417.5" x2="473.7" y2="421" stroke="#444" stroke-width="0.9"/>
<line x1="506" y1="584.7" x2="506" y2="582.9" stroke="#444" stroke-width="0.9"/>
<line x1="506" y1="417.5" x2="506" y2="419.3" stroke="#444" stroke-width="0.9"/>
<line x1="524.9" y1="584.7" x2="524.9" y2="582.9" stroke="#444" stroke-width="0.9"/>
<line x1="524.9" y1="417.5" x2="524.9" y2="419.3" stroke="#444" stroke-width="0.9"/>
<line x1="538.3" y1="584.7" x2="538.3" y2="582.9" stroke="#444" stroke-width="0.9"/>
<line x1="538.3" y1="417.5" x2="538.3" y2="419.3" stroke="#444" stroke-width="0.9"/>
<line x1="548.7" y1="584.7" x2="548.7" y2="581.2" stroke="#444" stroke-width="0.9"/>
<line x1="548.7" y1="417.5" x2="548.7" y2="421" stroke="#444" stroke-width="0.9"/>
<line x1="557.2" y1="584.7" x2="557.2" y2="582.9" stroke="#444" stroke-width="0.9"/>
<line x1="557.2" y1="417.5" x2="557.2" y2="419.3" stroke="#444" stroke-width="0.9"/>
<line x1="564.38" y1="584.7" x2="564.38" y2="582.9" stroke="#444" stroke-width="0.9"/>
<line x1="564.38" y1="417.5" x2="564.38" y2="419.3" stroke="#444" stroke-width="0.9"/>
<line x1="570.6" y1="584.7" x2="570.6" y2="582.9" stroke="#444" stroke-width="0.9"/>
<line x1="570.6" y1="417.5" x2="570.6" y2="419.3" stroke="#444" stroke-width="0.9"/>
<line x1="576.09" y1="584.7" x2="576.09" y2="582.9" stroke="#444" stroke-width="0.9"/>
<line x1="576.09" y1="417.5" x2="576.09" y2="419.3" stroke="#444" stroke-width="0.9"/>
<line x1="581" y1="584.7" x2="581" y2="581.2" stroke="#444" stroke-width="0.9"/>
<line x1="581" y1="417.5" x2="581" y2="421" stroke="#444" stroke-width="0.9"/>
<line x1="613.3" y1="584.7" x2="613.3" y2="582.9" stroke="#444" stroke-width="0.9"/>
<line x1="613.3" y1="417.5" x2="613.3" y2="419.3" stroke="#444" stroke-width="0.9"/>
<line x1="632.2" y1="584.7" x2="632.2" y2="582.9" stroke="#444" stroke-width="0.9"/>
<line x1="632.2" y1="417.5" x2="632.2" y2="419.3" stroke="#444" stroke-width="0.9"/>
<line x1="645.6" y1="584.7" x2="645.6" y2="582.9" stroke="#444" stroke-width="0.9"/>
<line x1="645.6" y1="417.5" x2="645.6" y2="419.3" stroke="#444" stroke-width="0.9"/>
<line x1="656" y1="584.7" x2="656" y2="581.2" stroke="#444" stroke-width="0.9"/>
<line x1="656" y1="417.5" x2="656" y2="421" stroke="#444" stroke-width="0.9"/>
<line x1="664.5" y1="584.7" x2="664.5" y2="582.9" stroke="#444" stroke-width="0.9"/>
<line x1="664.5" y1="417.5" x2="664.5" y2="419.3" stroke="#444" stroke-width="0.9"/>
<line x1="671.68" y1="584.7" x2="671.68" y2="582.9" stroke="#444" stroke-width="0.9"/>
<line x1="671.68" y1="417.5" x2="671.68" y2="419.3" stroke="#444" stroke-width="0.9"/>
<line x1="677.9" y1="584.7" x2="677.9" y2="582.9" stroke="#444" stroke-width="0.9"/>
<line x1="677.9" y1="417.5" x2="677.9" y2="419.3" stroke="#444" stroke-width="0.9"/>
<text x="441" y="596.8" font-family="'Liberation Sans', sans-serif" font-size="9.65" text-anchor="middle" fill="#2a2a2a">5<tspan dx="1.3">×</tspan><tspan dx="1.3">10</tspan><tspan font-size="6.56" dy="-3.8" dx="0.1">4</tspan></text>
<text x="473.3" y="596.8" font-family="'Liberation Sans', sans-serif" font-size="9.65" text-anchor="middle" fill="#2a2a2a">1<tspan dx="1.3">×</tspan><tspan dx="1.3">10</tspan><tspan font-size="6.56" dy="-3.8" dx="0.1">5</tspan></text>
<text x="548.3" y="596.8" font-family="'Liberation Sans', sans-serif" font-size="9.65" text-anchor="middle" fill="#2a2a2a">5<tspan dx="1.3">×</tspan><tspan dx="1.3">10</tspan><tspan font-size="6.56" dy="-3.8" dx="0.1">5</tspan></text>
<text x="580.6" y="596.8" font-family="'Liberation Sans', sans-serif" font-size="9.65" text-anchor="middle" fill="#2a2a2a">1<tspan dx="1.3">×</tspan><tspan dx="1.3">10</tspan><tspan font-size="6.56" dy="-3.8" dx="0.1">6</tspan></text>
<text x="655.6" y="596.8" font-family="'Liberation Sans', sans-serif" font-size="9.65" text-anchor="middle" fill="#2a2a2a">5<tspan dx="1.3">×</tspan><tspan dx="1.3">10</tspan><tspan font-size="6.56" dy="-3.8" dx="0.1">6</tspan></text>
<line x1="398.5" y1="584.7" x2="402" y2="584.7" stroke="#444" stroke-width="0.9"/>
<line x1="682.9" y1="584.7" x2="679.4" y2="584.7" stroke="#444" stroke-width="0.9"/>
<line x1="398.5" y1="574.9" x2="400.3" y2="574.9" stroke="#444" stroke-width="0.9"/>
<line x1="682.9" y1="574.9" x2="681.1" y2="574.9" stroke="#444" stroke-width="0.9"/>
<line x1="398.5" y1="565.1" x2="400.3" y2="565.1" stroke="#444" stroke-width="0.9"/>
<line x1="682.9" y1="565.1" x2="681.1" y2="565.1" stroke="#444" stroke-width="0.9"/>
<line x1="398.5" y1="555.3" x2="400.3" y2="555.3" stroke="#444" stroke-width="0.9"/>
<line x1="682.9" y1="555.3" x2="681.1" y2="555.3" stroke="#444" stroke-width="0.9"/>
<line x1="398.5" y1="545.5" x2="402" y2="545.5" stroke="#444" stroke-width="0.9"/>
<line x1="682.9" y1="545.5" x2="679.4" y2="545.5" stroke="#444" stroke-width="0.9"/>
<line x1="398.5" y1="535.7" x2="400.3" y2="535.7" stroke="#444" stroke-width="0.9"/>
<line x1="682.9" y1="535.7" x2="681.1" y2="535.7" stroke="#444" stroke-width="0.9"/>
<line x1="398.5" y1="525.9" x2="400.3" y2="525.9" stroke="#444" stroke-width="0.9"/>
<line x1="682.9" y1="525.9" x2="681.1" y2="525.9" stroke="#444" stroke-width="0.9"/>
<line x1="398.5" y1="516.1" x2="400.3" y2="516.1" stroke="#444" stroke-width="0.9"/>
<line x1="682.9" y1="516.1" x2="681.1" y2="516.1" stroke="#444" stroke-width="0.9"/>
<line x1="398.5" y1="506.3" x2="402" y2="506.3" stroke="#444" stroke-width="0.9"/>
<line x1="682.9" y1="506.3" x2="679.4" y2="506.3" stroke="#444" stroke-width="0.9"/>
<line x1="398.5" y1="496.5" x2="400.3" y2="496.5" stroke="#444" stroke-width="0.9"/>
<line x1="682.9" y1="496.5" x2="681.1" y2="496.5" stroke="#444" stroke-width="0.9"/>
<line x1="398.5" y1="486.7" x2="400.3" y2="486.7" stroke="#444" stroke-width="0.9"/>
<line x1="682.9" y1="486.7" x2="681.1" y2="486.7" stroke="#444" stroke-width="0.9"/>
<line x1="398.5" y1="476.9" x2="400.3" y2="476.9" stroke="#444" stroke-width="0.9"/>
<line x1="682.9" y1="476.9" x2="681.1" y2="476.9" stroke="#444" stroke-width="0.9"/>
<line x1="398.5" y1="467.1" x2="402" y2="467.1" stroke="#444" stroke-width="0.9"/>
<line x1="682.9" y1="467.1" x2="679.4" y2="467.1" stroke="#444" stroke-width="0.9"/>
<line x1="398.5" y1="457.3" x2="400.3" y2="457.3" stroke="#444" stroke-width="0.9"/>
<line x1="682.9" y1="457.3" x2="681.1" y2="457.3" stroke="#444" stroke-width="0.9"/>
<line x1="398.5" y1="447.5" x2="400.3" y2="447.5" stroke="#444" stroke-width="0.9"/>
<line x1="682.9" y1="447.5" x2="681.1" y2="447.5" stroke="#444" stroke-width="0.9"/>
<line x1="398.5" y1="437.7" x2="400.3" y2="437.7" stroke="#444" stroke-width="0.9"/>
<line x1="682.9" y1="437.7" x2="681.1" y2="437.7" stroke="#444" stroke-width="0.9"/>
<line x1="398.5" y1="427.9" x2="402" y2="427.9" stroke="#444" stroke-width="0.9"/>
<line x1="682.9" y1="427.9" x2="679.4" y2="427.9" stroke="#444" stroke-width="0.9"/>
<line x1="398.5" y1="418.1" x2="400.3" y2="418.1" stroke="#444" stroke-width="0.9"/>
<line x1="682.9" y1="418.1" x2="681.1" y2="418.1" stroke="#444" stroke-width="0.9"/>
<text x="397.2" y="587.6" font-family="'Liberation Sans', sans-serif" font-size="10.1" text-anchor="end" fill="#2a2a2a" font-weight="normal" font-style="normal" >0</text>
<text x="397.2" y="548.4" font-family="'Liberation Sans', sans-serif" font-size="10.1" text-anchor="end" fill="#2a2a2a" font-weight="normal" font-style="normal" >2</text>
<text x="397.2" y="509.2" font-family="'Liberation Sans', sans-serif" font-size="10.1" text-anchor="end" fill="#2a2a2a" font-weight="normal" font-style="normal" >4</text>
<text x="397.2" y="470" font-family="'Liberation Sans', sans-serif" font-size="10.1" text-anchor="end" fill="#2a2a2a" font-weight="normal" font-style="normal" >6</text>
<text x="397.2" y="430.8" font-family="'Liberation Sans', sans-serif" font-size="10.1" text-anchor="end" fill="#2a2a2a" font-weight="normal" font-style="normal" >8</text>
<path d="M427.6,471.1 L452.1,471.1 L476.6,471.7 L501.2,473.3 L525.6,472.1 L549.7,471.6 L574.5,478.1 L598.8,478.1 L623.4,472.1 L647.7,461" fill="none" stroke="#8e529a" stroke-width="1.45" stroke-dasharray="2.5,0.75" stroke-linejoin="round"/>
<circle cx="427.6" cy="471.1" r="1.55" fill="#7d4585"/>
<circle cx="452.1" cy="471.1" r="1.55" fill="#7d4585"/>
<circle cx="476.6" cy="471.7" r="1.55" fill="#7d4585"/>
<circle cx="501.2" cy="473.3" r="1.55" fill="#7d4585"/>
<circle cx="525.6" cy="472.1" r="1.55" fill="#7d4585"/>
<circle cx="549.7" cy="471.6" r="1.55" fill="#7d4585"/>
<circle cx="574.5" cy="478.1" r="1.55" fill="#7d4585"/>
<circle cx="598.8" cy="478.1" r="1.55" fill="#7d4585"/>
<circle cx="623.4" cy="472.1" r="1.55" fill="#7d4585"/>
<circle cx="647.7" cy="461" r="1.55" fill="#7d4585"/>
<path d="M431.1,462.5 L445,462.5 L458.9,462.5 L472.9,462.7 L486.9,463.1 L501,463.3 L514.9,463.4 L528.7,450.6 L542.7,434.4 L557,438.1 L570.7,434.9" fill="none" stroke="#7cb65a" stroke-width="1.45" stroke-dasharray="2.5,0.75" stroke-linejoin="round"/>
<circle cx="431.1" cy="462.5" r="1.55" fill="#6aa64e"/>
<circle cx="445" cy="462.5" r="1.55" fill="#6aa64e"/>
<circle cx="458.9" cy="462.5" r="1.55" fill="#6aa64e"/>
<circle cx="472.9" cy="462.7" r="1.55" fill="#6aa64e"/>
<circle cx="486.9" cy="463.1" r="1.55" fill="#6aa64e"/>
<circle cx="501" cy="463.3" r="1.55" fill="#6aa64e"/>
<circle cx="514.9" cy="463.4" r="1.55" fill="#6aa64e"/>
<circle cx="528.7" cy="450.6" r="1.55" fill="#6aa64e"/>
<circle cx="542.7" cy="434.4" r="1.55" fill="#6aa64e"/>
<circle cx="557" cy="438.1" r="1.55" fill="#6aa64e"/>
<circle cx="570.7" cy="434.9" r="1.55" fill="#6aa64e"/>
<path d="M427.6,503.4 L452.5,503.4 L477,503.4 L501.4,505 L526.2,514.7 L550.9,521 L575.2,526.7 L599.8,525.5 L624.6,525 L648.9,540.4" fill="none" stroke="#7c3d88" stroke-width="1.7" stroke-linejoin="round"/>
<circle cx="427.6" cy="503.4" r="1.8" fill="#70357b"/>
<circle cx="452.5" cy="503.4" r="1.8" fill="#70357b"/>
<circle cx="477" cy="503.4" r="1.8" fill="#70357b"/>
<circle cx="501.4" cy="505" r="1.8" fill="#70357b"/>
<circle cx="526.2" cy="514.7" r="1.8" fill="#70357b"/>
<circle cx="550.9" cy="521" r="1.8" fill="#70357b"/>
<circle cx="575.2" cy="526.7" r="1.8" fill="#70357b"/>
<circle cx="599.8" cy="525.5" r="1.8" fill="#70357b"/>
<circle cx="624.6" cy="525" r="1.8" fill="#70357b"/>
<circle cx="648.9" cy="540.4" r="1.8" fill="#70357b"/>
<path d="M403.1,478.8 L424.9,478.8 L447,478.8 L468.9,478.8 L490.9,479.2 L512.4,482.9 L534.3,490.2 L556.3,461.7 L578.2,455.2" fill="none" stroke="#66a84a" stroke-width="1.7" stroke-linejoin="round"/>
<circle cx="403.1" cy="478.8" r="1.8" fill="#5c9946"/>
<circle cx="424.9" cy="478.8" r="1.8" fill="#5c9946"/>
<circle cx="447" cy="478.8" r="1.8" fill="#5c9946"/>
<circle cx="468.9" cy="478.8" r="1.8" fill="#5c9946"/>
<circle cx="490.9" cy="479.2" r="1.8" fill="#5c9946"/>
<circle cx="512.4" cy="482.9" r="1.8" fill="#5c9946"/>
<circle cx="534.3" cy="490.2" r="1.8" fill="#5c9946"/>
<circle cx="556.3" cy="461.7" r="1.8" fill="#5c9946"/>
<circle cx="578.2" cy="455.2" r="1.8" fill="#5c9946"/>
<text x="405.8" y="578.8" font-family="'Liberation Sans', sans-serif" font-size="14" text-anchor="start" fill="#111" font-weight="bold" font-style="normal" >F</text>
<g transform="translate(361,0) rotate(-90)"><text x="-576.6" y="0" font-family="'Liberation Sans', sans-serif" font-size="13.0" fill="#1e1e1e">STD price uncertainty (%)</text></g>
<g transform="translate(377.4,0) rotate(-90)" fill="#1e1e1e"><text x="-526.9" y="0" font-family="'Liberation Serif', serif" font-style="italic" font-size="14.5">σ</text><text x="-519.2" y="0" font-family="'Liberation Serif', serif" font-style="normal" font-size="14.5">[</text><text x="-513.5" y="0" font-family="'Liberation Serif', serif" font-style="italic" font-size="15">U</text><text x="-500.4" y="3.6" font-family="'Liberation Serif', serif" font-style="italic" font-size="11" letter-spacing="0.4">h,m</text><text x="-483.5" y="0" font-family="'Liberation Serif', serif" font-style="normal" font-size="14.5">]</text></g>
<text x="463.3" y="615.3" font-family="'Liberation Sans', sans-serif" font-size="14.1" text-anchor="start" fill="#1e1e1e" font-weight="normal" font-style="normal" >Price, </text>
<text x="503.4" y="615.3" font-family="'Liberation Serif', serif" font-size="16" fill="#1e1e1e"><tspan font-style="italic">P</tspan><tspan font-style="italic" font-size="12" dy="3.6" letter-spacing="0.6">h,m</tspan></text>
<text x="537.2" y="615.3" font-family="'Liberation Sans', sans-serif" font-size="14.2" text-anchor="start" fill="#1e1e1e" font-weight="normal" font-style="normal" >(2018 US$)</text>
</g>
</svg>
</body></html>
